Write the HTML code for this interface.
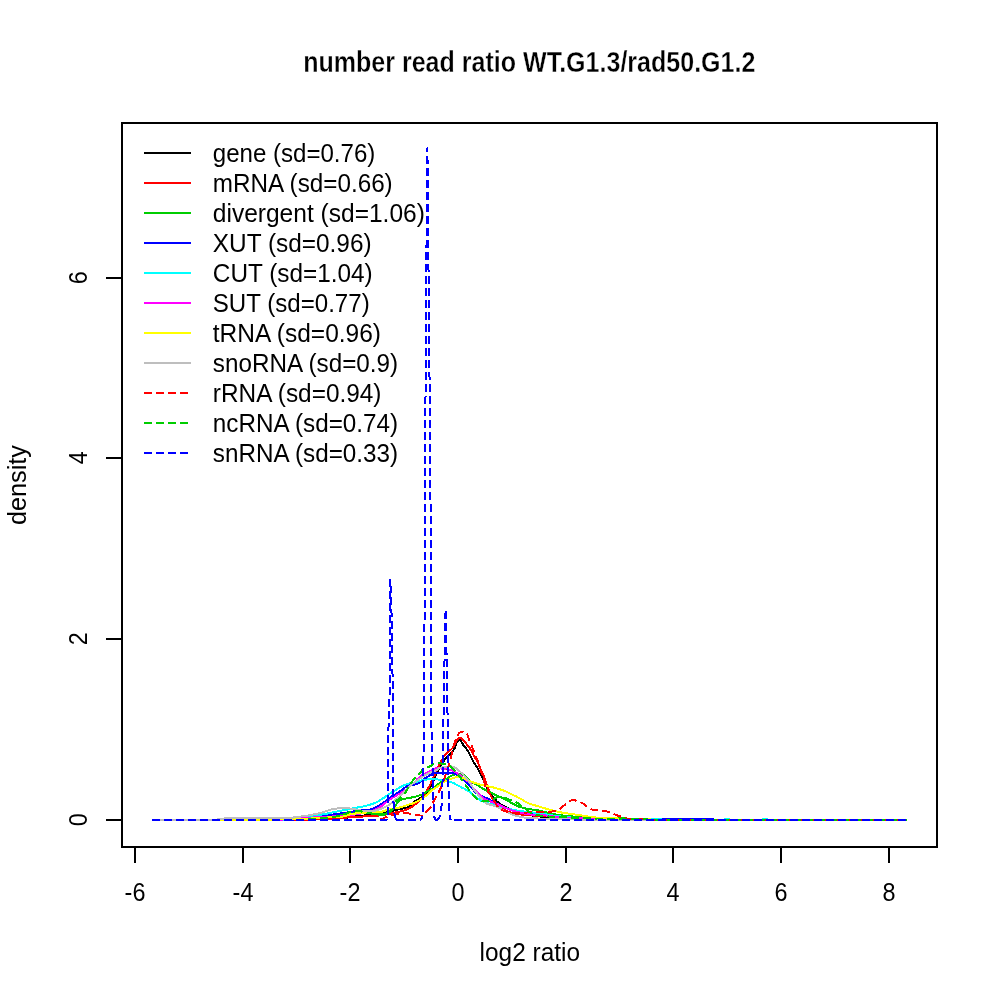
<!DOCTYPE html><html><head><meta charset="utf-8"><style>html,body{margin:0;padding:0;background:#fff;}svg{display:block;will-change:transform;}text{font-family:"Liberation Sans",sans-serif;}</style></head><body>
<svg width="1000" height="1000" viewBox="0 0 1000 1000">
<rect width="1000" height="1000" fill="#fff"/>
<polyline points="152.0,820.0 153.5,820.0 154.9,820.0 156.4,820.0 157.9,820.0 159.4,820.0 160.8,820.0 162.3,820.0 163.8,820.0 165.3,820.0 166.7,820.0 168.2,820.0 169.7,820.0 171.2,820.0 172.6,820.0 174.1,820.0 175.6,820.0 177.1,820.0 178.5,820.0 180.0,820.0 181.5,820.0 183.0,820.0 184.4,820.0 185.9,820.0 187.4,820.0 188.9,820.0 190.3,820.0 191.8,820.0 193.3,820.0 194.8,820.0 196.2,820.0 197.7,820.0 199.2,820.0 200.7,820.0 202.1,820.0 203.6,820.0 205.1,820.0 206.6,820.0 208.0,820.0 209.5,820.0 211.0,820.0 212.5,820.0 213.9,820.0 215.4,820.0 216.9,820.0 218.4,819.9 219.8,819.9 221.3,819.9 222.8,819.9 224.3,819.9 225.7,819.9 227.2,819.9 228.7,819.9 230.2,819.9 231.6,819.9 233.1,819.9 234.6,819.9 236.1,819.9 237.5,819.9 239.0,819.9 240.5,819.9 242.0,819.9 243.4,819.9 244.9,819.9 246.4,819.9 247.9,819.9 249.3,819.9 250.8,819.9 252.3,819.9 253.8,819.9 255.2,819.9 256.7,819.9 258.2,819.9 259.7,819.9 261.1,819.9 262.6,819.9 264.1,819.8 265.6,819.8 267.0,819.8 268.5,819.8 270.0,819.8 271.5,819.8 272.9,819.8 274.4,819.8 275.9,819.8 277.4,819.8 278.8,819.8 280.3,819.8 281.8,819.8 283.3,819.8 284.7,819.8 286.2,819.8 287.7,819.8 289.2,819.7 290.6,819.7 292.1,819.7 293.6,819.7 295.1,819.7 296.5,819.6 298.0,819.6 299.5,819.6 301.0,819.6 302.4,819.6 303.9,819.5 305.4,819.5 306.9,819.5 308.3,819.4 309.8,819.4 311.3,819.4 312.8,819.4 314.2,819.3 315.7,819.3 317.2,819.3 318.7,819.2 320.1,819.2 321.6,819.2 323.1,819.1 324.6,819.1 326.0,819.1 327.5,819.0 329.0,819.0 330.5,818.9 331.9,818.9 333.4,818.8 334.9,818.7 336.4,818.7 337.8,818.6 339.3,818.5 340.8,818.4 342.3,818.3 343.7,818.2 345.2,818.0 346.7,817.8 348.2,817.5 349.6,817.3 351.1,817.1 352.6,816.8 354.1,816.6 355.5,816.4 357.0,816.1 358.5,816.0 360.0,815.8 361.4,815.7 362.9,815.6 364.4,815.5 365.9,815.4 367.3,815.3 368.8,815.2 370.3,815.1 371.8,815.0 373.2,814.9 374.7,814.7 376.2,814.6 377.7,814.4 379.1,814.1 380.6,813.8 382.1,813.5 383.6,813.1 385.0,812.7 386.5,812.4 388.0,812.0 389.5,811.6 390.9,811.2 392.4,810.8 393.9,810.4 395.4,810.1 396.8,809.8 398.3,809.5 399.8,809.2 401.3,808.9 402.7,808.6 404.2,808.3 405.7,808.0 407.2,807.5 408.6,806.9 410.1,805.7 411.6,804.2 413.1,802.8 414.5,801.6 416.0,800.7 417.5,799.8 419.0,798.9 420.4,797.9 421.9,796.7 423.4,795.4 424.9,794.0 426.3,792.4 427.8,790.7 429.3,788.7 430.8,786.4 432.2,783.5 433.7,779.9 435.2,776.3 436.7,773.4 438.1,770.7 439.6,768.1 441.1,765.6 442.6,763.1 444.0,760.7 445.5,758.7 447.0,757.1 448.5,755.5 449.9,754.1 451.4,752.7 452.9,751.1 454.4,748.7 455.8,744.8 457.3,741.5 458.8,740.0 460.3,740.0 461.7,742.5 463.2,744.8 464.7,746.8 466.2,748.5 467.6,750.6 469.1,753.2 470.6,756.0 472.1,758.9 473.5,761.9 475.0,764.3 476.5,766.4 478.0,768.8 479.4,771.6 480.9,774.4 482.4,777.4 483.9,780.5 485.3,784.0 486.8,787.5 488.3,790.3 489.8,792.7 491.2,794.8 492.7,796.7 494.2,798.4 495.7,800.1 497.1,801.6 498.6,802.9 500.1,803.9 501.6,804.7 503.0,805.5 504.5,806.2 506.0,807.0 507.5,807.8 508.9,808.6 510.4,809.3 511.9,810.0 513.4,810.5 514.8,811.0 516.3,811.5 517.8,811.9 519.3,812.3 520.7,812.7 522.2,813.1 523.7,813.5 525.2,813.8 526.6,814.2 528.1,814.6 529.6,814.9 531.1,815.2 532.5,815.5 534.0,815.7 535.5,815.9 537.0,816.1 538.4,816.3 539.9,816.5 541.4,816.6 542.9,816.8 544.3,816.9 545.8,817.0 547.3,817.2 548.8,817.3 550.2,817.4 551.7,817.5 553.2,817.6 554.7,817.7 556.1,817.8 557.6,817.9 559.1,818.0 560.6,818.0 562.0,818.1 563.5,818.2 565.0,818.3 566.5,818.3 567.9,818.4 569.4,818.5 570.9,818.5 572.4,818.6 573.8,818.7 575.3,818.7 576.8,818.8 578.3,818.9 579.7,818.9 581.2,819.0 582.7,819.0 584.2,819.1 585.6,819.1 587.1,819.2 588.6,819.2 590.1,819.3 591.5,819.3 593.0,819.3 594.5,819.4 596.0,819.4 597.4,819.4 598.9,819.5 600.4,819.5 601.9,819.5 603.3,819.6 604.8,819.6 606.3,819.6 607.8,819.6 609.2,819.7 610.7,819.7 612.2,819.7 613.7,819.7 615.1,819.8 616.6,819.8 618.1,819.8 619.6,819.8 621.0,819.9 622.5,819.9 624.0,819.9 625.5,819.9 626.9,819.9 628.4,819.9 629.9,820.0 631.4,820.0 632.8,820.0 634.3,820.0 635.8,820.0 637.3,820.0 638.7,820.0 640.2,820.0 641.7,820.0 643.2,820.0 644.6,820.0 646.1,820.0 647.6,820.0 649.1,820.0 650.5,820.0 652.0,820.0 653.5,820.0 655.0,820.0 656.4,820.0 657.9,820.0 659.4,820.0 660.9,820.0 662.3,820.0 663.8,820.0 665.3,820.0 666.8,820.0 668.2,820.0 669.7,820.0 671.2,820.0 672.7,820.0 674.1,820.0 675.6,820.0 677.1,820.0 678.6,820.0 680.0,820.0 681.5,820.0 683.0,820.0 684.5,820.0 685.9,820.0 687.4,820.0 688.9,820.0 690.4,820.0 691.8,820.0 693.3,820.0 694.8,820.0 696.3,820.0 697.7,820.0 699.2,820.0 700.7,820.0 702.2,820.0 703.6,820.0 705.1,820.0 706.6,820.0 708.1,820.0 709.5,820.0 711.0,820.0 712.5,820.0 714.0,820.0 715.4,820.0 716.9,820.0 718.4,820.0 719.9,820.0 721.3,820.0 722.8,820.0 724.3,820.0 725.8,820.0 727.2,820.0 728.7,820.0 730.2,820.0 731.7,820.0 733.1,820.0 734.6,820.0 736.1,820.0 737.6,820.0 739.0,820.0 740.5,820.0 742.0,820.0 743.5,820.0 744.9,820.0 746.4,820.0 747.9,820.0 749.4,820.0 750.8,820.0 752.3,820.0 753.8,820.0 755.3,820.0 756.7,820.0 758.2,820.0 759.7,820.0 761.2,820.0 762.6,820.0 764.1,820.0 765.6,820.0 767.1,820.0 768.5,820.0 770.0,820.0 771.5,820.0 773.0,820.0 774.4,820.0 775.9,820.0 777.4,820.0 778.9,820.0 780.3,820.0 781.8,820.0 783.3,820.0 784.8,820.0 786.2,820.0 787.7,820.0 789.2,820.0 790.7,820.0 792.1,820.0 793.6,820.0 795.1,820.0 796.6,820.0 798.0,820.0 799.5,820.0 801.0,820.0 802.5,820.0 803.9,820.0 805.4,820.0 806.9,820.0 808.4,820.0 809.8,820.0 811.3,820.0 812.8,820.0 814.3,820.0 815.7,820.0 817.2,820.0 818.7,820.0 820.2,820.0 821.6,820.0 823.1,820.0 824.6,820.0 826.1,820.0 827.5,820.0 829.0,820.0 830.5,820.0 832.0,820.0 833.4,820.0 834.9,820.0 836.4,820.0 837.9,820.0 839.3,820.0 840.8,820.0 842.3,820.0 843.8,820.0 845.2,820.0 846.7,820.0 848.2,820.0 849.7,820.0 851.1,820.0 852.6,820.0 854.1,820.0 855.6,820.0 857.0,820.0 858.5,820.0 860.0,820.0 861.5,820.0 862.9,820.0 864.4,820.0 865.9,820.0 867.4,820.0 868.8,820.0 870.3,820.0 871.8,820.0 873.3,820.0 874.7,820.0 876.2,820.0 877.7,820.0 879.2,820.0 880.6,820.0 882.1,820.0 883.6,820.0 885.1,820.0 886.5,820.0 888.0,820.0 889.5,820.0 891.0,820.0 892.4,820.0 893.9,820.0 895.4,820.0 896.9,820.0 898.3,820.0 899.8,820.0 901.3,820.0 902.8,820.0 904.2,820.0 905.7,820.0" fill="none" stroke="#000000" stroke-width="2" stroke-linejoin="round" shape-rendering="crispEdges"/>
<polyline points="152.0,820.0 153.5,820.0 154.9,820.0 156.4,820.0 157.9,820.0 159.4,820.0 160.8,820.0 162.3,820.0 163.8,820.0 165.3,820.0 166.7,820.0 168.2,820.0 169.7,820.0 171.2,820.0 172.6,820.0 174.1,820.0 175.6,820.0 177.1,820.0 178.5,820.0 180.0,820.0 181.5,820.0 183.0,820.0 184.4,820.0 185.9,820.0 187.4,820.0 188.9,820.0 190.3,820.0 191.8,820.0 193.3,820.0 194.8,820.0 196.2,820.0 197.7,820.0 199.2,820.0 200.7,820.0 202.1,820.0 203.6,820.0 205.1,820.0 206.6,820.0 208.0,820.0 209.5,819.9 211.0,819.9 212.5,819.9 213.9,819.9 215.4,819.9 216.9,819.9 218.4,819.9 219.8,819.9 221.3,819.9 222.8,819.9 224.3,819.9 225.7,819.9 227.2,819.9 228.7,819.9 230.2,819.9 231.6,819.9 233.1,819.9 234.6,819.9 236.1,819.9 237.5,819.9 239.0,819.9 240.5,819.9 242.0,819.9 243.4,819.9 244.9,819.9 246.4,819.9 247.9,819.8 249.3,819.8 250.8,819.8 252.3,819.8 253.8,819.8 255.2,819.8 256.7,819.8 258.2,819.8 259.7,819.8 261.1,819.8 262.6,819.8 264.1,819.8 265.6,819.8 267.0,819.8 268.5,819.8 270.0,819.8 271.5,819.8 272.9,819.7 274.4,819.7 275.9,819.7 277.4,819.7 278.8,819.7 280.3,819.7 281.8,819.7 283.3,819.7 284.7,819.7 286.2,819.7 287.7,819.7 289.2,819.7 290.6,819.7 292.1,819.6 293.6,819.6 295.1,819.6 296.5,819.6 298.0,819.6 299.5,819.6 301.0,819.6 302.4,819.6 303.9,819.6 305.4,819.5 306.9,819.5 308.3,819.5 309.8,819.5 311.3,819.4 312.8,819.4 314.2,819.3 315.7,819.3 317.2,819.3 318.7,819.2 320.1,819.1 321.6,819.1 323.1,819.0 324.6,819.0 326.0,818.9 327.5,818.8 329.0,818.8 330.5,818.7 331.9,818.6 333.4,818.6 334.9,818.5 336.4,818.4 337.8,818.3 339.3,818.2 340.8,818.1 342.3,818.0 343.7,817.9 345.2,817.7 346.7,817.5 348.2,817.4 349.6,817.2 351.1,817.1 352.6,817.0 354.1,816.9 355.5,816.8 357.0,816.7 358.5,816.7 360.0,816.6 361.4,816.5 362.9,816.5 364.4,816.4 365.9,816.3 367.3,816.2 368.8,816.2 370.3,816.1 371.8,816.0 373.2,816.0 374.7,815.9 376.2,815.8 377.7,815.7 379.1,815.5 380.6,815.4 382.1,815.2 383.6,814.9 385.0,814.6 386.5,814.3 388.0,814.0 389.5,813.7 390.9,813.4 392.4,813.1 393.9,812.8 395.4,812.5 396.8,812.3 398.3,812.0 399.8,811.6 401.3,811.3 402.7,810.9 404.2,810.4 405.7,809.9 407.2,809.3 408.6,808.7 410.1,807.9 411.6,807.0 413.1,806.1 414.5,805.0 416.0,803.8 417.5,802.5 419.0,801.1 420.4,799.5 421.9,797.8 423.4,795.9 424.9,793.9 426.3,791.6 427.8,789.0 429.3,786.2 430.8,783.3 432.2,779.9 433.7,776.6 435.2,774.1 436.7,770.8 438.1,767.3 439.6,764.3 441.1,761.3 442.6,758.6 444.0,756.4 445.5,754.7 447.0,753.3 448.5,751.9 449.9,750.5 451.4,749.2 452.9,747.5 454.4,745.0 455.8,742.2 457.3,739.4 458.8,737.7 460.3,737.7 461.7,738.5 463.2,740.1 464.7,741.9 466.2,743.5 467.6,745.3 469.1,747.2 470.6,749.4 472.1,752.1 473.5,755.1 475.0,757.7 476.5,760.1 478.0,762.8 479.4,766.1 480.9,769.7 482.4,772.9 483.9,776.6 485.3,780.7 486.8,784.6 488.3,789.0 489.8,793.5 491.2,796.6 492.7,799.0 494.2,801.0 495.7,802.7 497.1,804.2 498.6,805.6 500.1,806.9 501.6,808.1 503.0,809.1 504.5,809.9 506.0,810.6 507.5,811.3 508.9,811.8 510.4,812.3 511.9,812.8 513.4,813.2 514.8,813.5 516.3,813.8 517.8,814.1 519.3,814.3 520.7,814.5 522.2,814.6 523.7,814.8 525.2,814.9 526.6,815.1 528.1,815.2 529.6,815.3 531.1,815.4 532.5,815.5 534.0,815.6 535.5,815.7 537.0,815.8 538.4,815.9 539.9,816.0 541.4,816.0 542.9,816.1 544.3,816.2 545.8,816.3 547.3,816.3 548.8,816.4 550.2,816.5 551.7,816.6 553.2,816.6 554.7,816.7 556.1,816.8 557.6,816.9 559.1,817.0 560.6,817.1 562.0,817.1 563.5,817.2 565.0,817.3 566.5,817.4 567.9,817.5 569.4,817.6 570.9,817.6 572.4,817.7 573.8,817.8 575.3,817.9 576.8,818.0 578.3,818.0 579.7,818.1 581.2,818.2 582.7,818.3 584.2,818.3 585.6,818.4 587.1,818.5 588.6,818.6 590.1,818.6 591.5,818.7 593.0,818.7 594.5,818.8 596.0,818.9 597.4,818.9 598.9,819.0 600.4,819.0 601.9,819.1 603.3,819.1 604.8,819.2 606.3,819.2 607.8,819.3 609.2,819.3 610.7,819.4 612.2,819.4 613.7,819.5 615.1,819.5 616.6,819.6 618.1,819.6 619.6,819.7 621.0,819.7 622.5,819.7 624.0,819.8 625.5,819.8 626.9,819.8 628.4,819.9 629.9,819.9 631.4,819.9 632.8,820.0 634.3,820.0 635.8,820.0 637.3,820.0 638.7,820.0 640.2,820.0 641.7,820.0 643.2,820.0 644.6,820.0 646.1,820.0 647.6,820.0 649.1,820.0 650.5,820.0 652.0,820.0 653.5,820.0 655.0,820.0 656.4,820.0 657.9,820.0 659.4,820.0 660.9,820.0 662.3,820.0 663.8,820.0 665.3,820.0 666.8,820.0 668.2,820.0 669.7,820.0 671.2,820.0 672.7,820.0 674.1,820.0 675.6,820.0 677.1,820.0 678.6,820.0 680.0,820.0 681.5,820.0 683.0,820.0 684.5,820.0 685.9,820.0 687.4,820.0 688.9,820.0 690.4,820.0 691.8,820.0 693.3,820.0 694.8,820.0 696.3,820.0 697.7,820.0 699.2,820.0 700.7,820.0 702.2,820.0 703.6,820.0 705.1,820.0 706.6,820.0 708.1,820.0 709.5,820.0 711.0,820.0 712.5,820.0 714.0,820.0 715.4,820.0 716.9,820.0 718.4,820.0 719.9,820.0 721.3,820.0 722.8,820.0 724.3,820.0 725.8,820.0 727.2,820.0 728.7,820.0 730.2,820.0 731.7,820.0 733.1,820.0 734.6,820.0 736.1,820.0 737.6,820.0 739.0,820.0 740.5,820.0 742.0,820.0 743.5,820.0 744.9,820.0 746.4,820.0 747.9,820.0 749.4,820.0 750.8,820.0 752.3,820.0 753.8,820.0 755.3,820.0 756.7,820.0 758.2,820.0 759.7,820.0 761.2,820.0 762.6,820.0 764.1,820.0 765.6,820.0 767.1,820.0 768.5,820.0 770.0,820.0 771.5,820.0 773.0,820.0 774.4,820.0 775.9,820.0 777.4,820.0 778.9,820.0 780.3,820.0 781.8,820.0 783.3,820.0 784.8,820.0 786.2,820.0 787.7,820.0 789.2,820.0 790.7,820.0 792.1,820.0 793.6,820.0 795.1,820.0 796.6,820.0 798.0,820.0 799.5,820.0 801.0,820.0 802.5,820.0 803.9,820.0 805.4,820.0 806.9,820.0 808.4,820.0 809.8,820.0 811.3,820.0 812.8,820.0 814.3,820.0 815.7,820.0 817.2,820.0 818.7,820.0 820.2,820.0 821.6,820.0 823.1,820.0 824.6,820.0 826.1,820.0 827.5,820.0 829.0,820.0 830.5,820.0 832.0,820.0 833.4,820.0 834.9,820.0 836.4,820.0 837.9,820.0 839.3,820.0 840.8,820.0 842.3,820.0 843.8,820.0 845.2,820.0 846.7,820.0 848.2,820.0 849.7,820.0 851.1,820.0 852.6,820.0 854.1,820.0 855.6,820.0 857.0,820.0 858.5,820.0 860.0,820.0 861.5,820.0 862.9,820.0 864.4,820.0 865.9,820.0 867.4,820.0 868.8,820.0 870.3,820.0 871.8,820.0 873.3,820.0 874.7,820.0 876.2,820.0 877.7,820.0 879.2,820.0 880.6,820.0 882.1,820.0 883.6,820.0 885.1,820.0 886.5,820.0 888.0,820.0 889.5,820.0 891.0,820.0 892.4,820.0 893.9,820.0 895.4,820.0 896.9,820.0 898.3,820.0 899.8,820.0 901.3,820.0 902.8,820.0 904.2,820.0 905.7,820.0" fill="none" stroke="#FF0000" stroke-width="2" stroke-linejoin="round" shape-rendering="crispEdges"/>
<polyline points="152.0,820.0 153.5,820.0 154.9,820.0 156.4,820.0 157.9,820.0 159.4,820.0 160.8,820.0 162.3,820.0 163.8,820.0 165.3,820.0 166.7,820.0 168.2,820.0 169.7,820.0 171.2,820.0 172.6,820.0 174.1,820.0 175.6,820.0 177.1,820.0 178.5,820.0 180.0,820.0 181.5,820.0 183.0,820.0 184.4,820.0 185.9,819.9 187.4,819.9 188.9,819.9 190.3,819.9 191.8,819.9 193.3,819.9 194.8,819.9 196.2,819.9 197.7,819.9 199.2,819.9 200.7,819.9 202.1,819.9 203.6,819.9 205.1,819.9 206.6,819.9 208.0,819.9 209.5,819.9 211.0,819.8 212.5,819.8 213.9,819.8 215.4,819.8 216.9,819.8 218.4,819.8 219.8,819.8 221.3,819.8 222.8,819.8 224.3,819.8 225.7,819.8 227.2,819.8 228.7,819.7 230.2,819.7 231.6,819.7 233.1,819.7 234.6,819.7 236.1,819.7 237.5,819.7 239.0,819.7 240.5,819.7 242.0,819.7 243.4,819.6 244.9,819.6 246.4,819.6 247.9,819.6 249.3,819.6 250.8,819.6 252.3,819.6 253.8,819.6 255.2,819.5 256.7,819.5 258.2,819.5 259.7,819.5 261.1,819.5 262.6,819.4 264.1,819.4 265.6,819.4 267.0,819.3 268.5,819.3 270.0,819.3 271.5,819.2 272.9,819.2 274.4,819.2 275.9,819.1 277.4,819.1 278.8,819.0 280.3,819.0 281.8,818.9 283.3,818.9 284.7,818.8 286.2,818.8 287.7,818.7 289.2,818.7 290.6,818.6 292.1,818.5 293.6,818.5 295.1,818.4 296.5,818.4 298.0,818.3 299.5,818.2 301.0,818.2 302.4,818.1 303.9,818.0 305.4,817.8 306.9,817.7 308.3,817.6 309.8,817.4 311.3,817.2 312.8,817.1 314.2,816.9 315.7,816.7 317.2,816.5 318.7,816.4 320.1,816.2 321.6,816.0 323.1,815.8 324.6,815.7 326.0,815.5 327.5,815.4 329.0,815.3 330.5,815.2 331.9,815.1 333.4,815.0 334.9,814.9 336.4,814.9 337.8,814.8 339.3,814.7 340.8,814.5 342.3,814.3 343.7,814.0 345.2,813.7 346.7,813.3 348.2,813.0 349.6,812.6 351.1,812.4 352.6,812.1 354.1,811.8 355.5,811.6 357.0,811.3 358.5,811.1 360.0,811.0 361.4,811.0 362.9,811.2 364.4,811.5 365.9,812.0 367.3,812.5 368.8,812.9 370.3,813.3 371.8,813.6 373.2,814.0 374.7,814.3 376.2,814.4 377.7,814.4 379.1,814.4 380.6,814.4 382.1,814.4 383.6,814.2 385.0,813.9 386.5,813.4 388.0,812.8 389.5,812.1 390.9,811.0 392.4,809.8 393.9,808.1 395.4,806.0 396.8,803.7 398.3,801.5 399.8,800.3 401.3,799.6 402.7,799.2 404.2,798.9 405.7,798.6 407.2,798.4 408.6,798.1 410.1,797.8 411.6,797.5 413.1,797.2 414.5,796.9 416.0,796.5 417.5,796.0 419.0,795.6 420.4,795.0 421.9,794.5 423.4,793.8 424.9,792.9 426.3,792.0 427.8,791.1 429.3,790.3 430.8,789.4 432.2,788.4 433.7,787.4 435.2,786.4 436.7,785.3 438.1,784.3 439.6,783.2 441.1,782.2 442.6,781.1 444.0,780.2 445.5,779.3 447.0,778.5 448.5,777.6 449.9,776.5 451.4,775.6 452.9,775.1 454.4,774.6 455.8,774.3 457.3,774.2 458.8,774.2 460.3,774.4 461.7,774.5 463.2,774.8 464.7,775.5 466.2,777.0 467.6,778.4 469.1,780.0 470.6,781.3 472.1,782.3 473.5,783.2 475.0,784.0 476.5,784.8 478.0,785.6 479.4,786.5 480.9,787.4 482.4,788.3 483.9,789.2 485.3,790.0 486.8,790.8 488.3,791.5 489.8,792.2 491.2,792.9 492.7,793.7 494.2,794.4 495.7,795.2 497.1,795.9 498.6,796.5 500.1,797.0 501.6,797.6 503.0,798.3 504.5,799.1 506.0,799.9 507.5,800.7 508.9,801.5 510.4,802.4 511.9,803.1 513.4,803.9 514.8,804.7 516.3,805.5 517.8,806.2 519.3,806.8 520.7,807.2 522.2,807.6 523.7,808.0 525.2,808.3 526.6,808.6 528.1,808.9 529.6,809.1 531.1,809.4 532.5,809.6 534.0,809.8 535.5,810.1 537.0,810.3 538.4,810.5 539.9,810.8 541.4,811.1 542.9,811.4 544.3,811.8 545.8,812.2 547.3,812.6 548.8,812.9 550.2,813.3 551.7,813.6 553.2,813.9 554.7,814.2 556.1,814.5 557.6,814.8 559.1,815.1 560.6,815.3 562.0,815.4 563.5,815.6 565.0,815.7 566.5,815.9 567.9,816.0 569.4,816.1 570.9,816.3 572.4,816.5 573.8,816.6 575.3,816.8 576.8,816.9 578.3,817.1 579.7,817.2 581.2,817.3 582.7,817.4 584.2,817.4 585.6,817.5 587.1,817.6 588.6,817.6 590.1,817.7 591.5,817.8 593.0,817.8 594.5,817.9 596.0,817.9 597.4,817.9 598.9,818.0 600.4,818.0 601.9,818.0 603.3,818.1 604.8,818.1 606.3,818.1 607.8,818.1 609.2,818.1 610.7,818.2 612.2,818.2 613.7,818.2 615.1,818.2 616.6,818.2 618.1,818.3 619.6,818.3 621.0,818.3 622.5,818.4 624.0,818.4 625.5,818.5 626.9,818.6 628.4,818.6 629.9,818.7 631.4,818.8 632.8,818.8 634.3,818.9 635.8,818.9 637.3,819.0 638.7,819.0 640.2,819.0 641.7,819.0 643.2,819.0 644.6,819.0 646.1,819.0 647.6,819.0 649.1,819.0 650.5,819.0 652.0,819.0 653.5,819.0 655.0,819.0 656.4,819.0 657.9,819.0 659.4,819.0 660.9,819.0 662.3,819.0 663.8,819.0 665.3,819.0 666.8,819.0 668.2,819.0 669.7,819.0 671.2,819.0 672.7,819.0 674.1,819.0 675.6,819.0 677.1,819.3 678.6,819.6 680.0,819.9 681.5,820.0 683.0,820.0 684.5,820.0 685.9,820.0 687.4,820.0 688.9,820.0 690.4,820.0 691.8,820.0 693.3,820.0 694.8,820.0 696.3,820.0 697.7,820.0 699.2,820.0 700.7,820.0 702.2,820.0 703.6,820.0 705.1,820.0 706.6,820.0 708.1,820.0 709.5,820.0 711.0,820.0 712.5,820.0 714.0,820.0 715.4,820.0 716.9,820.0 718.4,820.0 719.9,820.0 721.3,820.0 722.8,820.0 724.3,820.0 725.8,820.0 727.2,820.0 728.7,820.0 730.2,820.0 731.7,820.0 733.1,820.0 734.6,820.0 736.1,820.0 737.6,820.0 739.0,820.0 740.5,820.0 742.0,820.0 743.5,820.0 744.9,820.0 746.4,820.0 747.9,820.0 749.4,820.0 750.8,820.0 752.3,820.0 753.8,820.0 755.3,820.0 756.7,820.0 758.2,820.0 759.7,820.0 761.2,820.0 762.6,820.0 764.1,820.0 765.6,820.0 767.1,820.0 768.5,820.0 770.0,820.0 771.5,820.0 773.0,820.0 774.4,820.0 775.9,820.0 777.4,820.0 778.9,820.0 780.3,820.0 781.8,820.0 783.3,820.0 784.8,820.0 786.2,820.0 787.7,820.0 789.2,820.0 790.7,820.0 792.1,820.0 793.6,820.0 795.1,820.0 796.6,820.0 798.0,820.0 799.5,820.0 801.0,820.0 802.5,820.0 803.9,820.0 805.4,820.0 806.9,820.0 808.4,820.0 809.8,820.0 811.3,820.0 812.8,820.0 814.3,820.0 815.7,820.0 817.2,820.0 818.7,820.0 820.2,820.0 821.6,820.0 823.1,820.0 824.6,820.0 826.1,820.0 827.5,820.0 829.0,820.0 830.5,820.0 832.0,820.0 833.4,820.0 834.9,820.0 836.4,820.0 837.9,820.0 839.3,820.0 840.8,820.0 842.3,820.0 843.8,820.0 845.2,820.0 846.7,820.0 848.2,820.0 849.7,820.0 851.1,820.0 852.6,820.0 854.1,820.0 855.6,820.0 857.0,820.0 858.5,820.0 860.0,820.0 861.5,820.0 862.9,820.0 864.4,820.0 865.9,820.0 867.4,820.0 868.8,820.0 870.3,820.0 871.8,820.0 873.3,820.0 874.7,820.0 876.2,820.0 877.7,820.0 879.2,820.0 880.6,820.0 882.1,820.0 883.6,820.0 885.1,820.0 886.5,820.0 888.0,820.0 889.5,820.0 891.0,820.0 892.4,820.0 893.9,820.0 895.4,820.0 896.9,820.0 898.3,820.0 899.8,820.0 901.3,820.0 902.8,820.0 904.2,820.0 905.7,820.0" fill="none" stroke="#00CD00" stroke-width="2" stroke-linejoin="round" shape-rendering="crispEdges"/>
<polyline points="152.0,820.0 153.5,820.0 154.9,820.0 156.4,820.0 157.9,820.0 159.4,820.0 160.8,820.0 162.3,820.0 163.8,820.0 165.3,820.0 166.7,820.0 168.2,820.0 169.7,820.0 171.2,820.0 172.6,820.0 174.1,820.0 175.6,820.0 177.1,820.0 178.5,820.0 180.0,820.0 181.5,820.0 183.0,820.0 184.4,820.0 185.9,820.0 187.4,820.0 188.9,820.0 190.3,820.0 191.8,820.0 193.3,820.0 194.8,820.0 196.2,820.0 197.7,820.0 199.2,820.0 200.7,820.0 202.1,820.0 203.6,820.0 205.1,820.0 206.6,820.0 208.0,820.0 209.5,820.0 211.0,820.0 212.5,819.9 213.9,819.9 215.4,819.9 216.9,819.9 218.4,819.9 219.8,819.9 221.3,819.9 222.8,819.9 224.3,819.9 225.7,819.9 227.2,819.9 228.7,819.9 230.2,819.9 231.6,819.9 233.1,819.9 234.6,819.9 236.1,819.9 237.5,819.9 239.0,819.9 240.5,819.9 242.0,819.9 243.4,819.9 244.9,819.9 246.4,819.8 247.9,819.8 249.3,819.8 250.8,819.8 252.3,819.8 253.8,819.8 255.2,819.8 256.7,819.8 258.2,819.8 259.7,819.8 261.1,819.8 262.6,819.8 264.1,819.8 265.6,819.8 267.0,819.7 268.5,819.7 270.0,819.7 271.5,819.7 272.9,819.7 274.4,819.7 275.9,819.7 277.4,819.7 278.8,819.7 280.3,819.7 281.8,819.7 283.3,819.6 284.7,819.6 286.2,819.6 287.7,819.6 289.2,819.6 290.6,819.6 292.1,819.5 293.6,819.5 295.1,819.3 296.5,819.2 298.0,819.0 299.5,818.9 301.0,818.7 302.4,818.5 303.9,818.3 305.4,818.1 306.9,817.9 308.3,817.7 309.8,817.5 311.3,817.3 312.8,817.2 314.2,817.0 315.7,816.8 317.2,816.6 318.7,816.5 320.1,816.3 321.6,816.1 323.1,815.9 324.6,815.7 326.0,815.5 327.5,815.3 329.0,815.1 330.5,814.9 331.9,814.7 333.4,814.5 334.9,814.3 336.4,814.1 337.8,813.9 339.3,813.6 340.8,813.4 342.3,813.2 343.7,812.9 345.2,812.7 346.7,812.5 348.2,812.3 349.6,812.1 351.1,811.8 352.6,811.6 354.1,811.4 355.5,811.2 357.0,811.0 358.5,810.8 360.0,810.6 361.4,810.4 362.9,810.3 364.4,810.2 365.9,810.0 367.3,809.9 368.8,809.7 370.3,809.4 371.8,809.1 373.2,808.5 374.7,807.9 376.2,807.1 377.7,806.3 379.1,805.5 380.6,804.6 382.1,803.7 383.6,802.6 385.0,801.4 386.5,800.2 388.0,799.0 389.5,798.0 390.9,797.0 392.4,796.1 393.9,795.3 395.4,794.4 396.8,793.4 398.3,792.4 399.8,791.4 401.3,790.3 402.7,789.3 404.2,788.1 405.7,787.0 407.2,786.1 408.6,785.6 410.1,785.3 411.6,785.0 413.1,784.7 414.5,784.5 416.0,784.4 417.5,784.0 419.0,782.9 420.4,781.4 421.9,780.1 423.4,779.2 424.9,778.4 426.3,777.6 427.8,776.7 429.3,775.7 430.8,774.8 432.2,774.1 433.7,773.4 435.2,772.9 436.7,772.6 438.1,772.6 439.6,772.6 441.1,772.6 442.6,772.6 444.0,772.6 445.5,772.7 447.0,772.9 448.5,773.0 449.9,773.1 451.4,773.2 452.9,773.3 454.4,773.5 455.8,774.1 457.3,775.6 458.8,776.8 460.3,777.7 461.7,778.6 463.2,779.6 464.7,780.8 466.2,782.3 467.6,783.9 469.1,785.5 470.6,787.0 472.1,788.6 473.5,790.1 475.0,791.7 476.5,793.1 478.0,794.3 479.4,795.2 480.9,795.9 482.4,796.5 483.9,797.0 485.3,797.6 486.8,798.2 488.3,798.9 489.8,799.7 491.2,800.5 492.7,801.3 494.2,802.1 495.7,802.8 497.1,803.6 498.6,804.3 500.1,805.1 501.6,805.9 503.0,806.6 504.5,807.3 506.0,808.0 507.5,808.6 508.9,809.2 510.4,809.6 511.9,810.1 513.4,810.5 514.8,810.9 516.3,811.3 517.8,811.7 519.3,812.0 520.7,812.4 522.2,812.7 523.7,813.0 525.2,813.3 526.6,813.5 528.1,813.7 529.6,813.9 531.1,814.1 532.5,814.3 534.0,814.5 535.5,814.6 537.0,814.8 538.4,814.9 539.9,815.0 541.4,815.2 542.9,815.3 544.3,815.4 545.8,815.5 547.3,815.6 548.8,815.7 550.2,815.8 551.7,815.9 553.2,816.1 554.7,816.2 556.1,816.3 557.6,816.4 559.1,816.5 560.6,816.7 562.0,816.8 563.5,817.0 565.0,817.1 566.5,817.3 567.9,817.4 569.4,817.5 570.9,817.5 572.4,817.5 573.8,817.5 575.3,817.5 576.8,817.5 578.3,817.5 579.7,817.5 581.2,817.6 582.7,817.6 584.2,817.6 585.6,817.6 587.1,817.6 588.6,817.6 590.1,817.6 591.5,817.7 593.0,817.8 594.5,817.9 596.0,818.1 597.4,818.2 598.9,818.3 600.4,818.4 601.9,818.5 603.3,818.5 604.8,818.6 606.3,818.6 607.8,818.7 609.2,818.7 610.7,818.7 612.2,818.8 613.7,818.8 615.1,818.8 616.6,818.9 618.1,818.9 619.6,818.9 621.0,818.9 622.5,819.0 624.0,819.0 625.5,819.0 626.9,819.0 628.4,819.0 629.9,819.0 631.4,819.0 632.8,819.0 634.3,819.0 635.8,819.0 637.3,819.0 638.7,819.0 640.2,819.0 641.7,819.0 643.2,819.0 644.6,819.0 646.1,819.0 647.6,819.0 649.1,819.0 650.5,819.0 652.0,819.0 653.5,819.0 655.0,819.0 656.4,819.0 657.9,819.0 659.4,819.0 660.9,819.0 662.3,819.0 663.8,819.0 665.3,819.0 666.8,819.0 668.2,819.0 669.7,819.0 671.2,819.0 672.7,819.0 674.1,819.0 675.6,819.0 677.1,819.0 678.6,819.0 680.0,819.0 681.5,819.0 683.0,819.0 684.5,819.0 685.9,819.0 687.4,819.0 688.9,819.0 690.4,819.0 691.8,819.0 693.3,819.0 694.8,819.0 696.3,819.0 697.7,819.0 699.2,819.0 700.7,819.0 702.2,819.0 703.6,819.0 705.1,819.0 706.6,819.0 708.1,819.0 709.5,819.0 711.0,819.0 712.5,819.2 714.0,819.6 715.4,820.0 716.9,820.0 718.4,820.0 719.9,820.0 721.3,820.0 722.8,820.0 724.3,820.0 725.8,820.0 727.2,820.0 728.7,820.0 730.2,820.0 731.7,820.0 733.1,820.0 734.6,820.0 736.1,820.0 737.6,820.0 739.0,820.0 740.5,820.0 742.0,820.0 743.5,820.0 744.9,820.0 746.4,820.0 747.9,820.0 749.4,820.0 750.8,820.0 752.3,820.0 753.8,820.0 755.3,820.0 756.7,820.0 758.2,820.0 759.7,820.0 761.2,820.0 762.6,820.0 764.1,820.0 765.6,820.0 767.1,820.0 768.5,820.0 770.0,820.0 771.5,820.0 773.0,820.0 774.4,820.0 775.9,820.0 777.4,820.0 778.9,820.0 780.3,820.0 781.8,820.0 783.3,820.0 784.8,820.0 786.2,820.0 787.7,820.0 789.2,820.0 790.7,820.0 792.1,820.0 793.6,820.0 795.1,820.0 796.6,820.0 798.0,820.0 799.5,820.0 801.0,820.0 802.5,820.0 803.9,820.0 805.4,820.0 806.9,820.0 808.4,820.0 809.8,820.0 811.3,820.0 812.8,820.0 814.3,820.0 815.7,820.0 817.2,820.0 818.7,820.0 820.2,820.0 821.6,820.0 823.1,820.0 824.6,820.0 826.1,820.0 827.5,820.0 829.0,820.0 830.5,820.0 832.0,820.0 833.4,820.0 834.9,820.0 836.4,820.0 837.9,820.0 839.3,820.0 840.8,820.0 842.3,820.0 843.8,820.0 845.2,820.0 846.7,820.0 848.2,820.0 849.7,820.0 851.1,820.0 852.6,820.0 854.1,820.0 855.6,820.0 857.0,820.0 858.5,820.0 860.0,820.0 861.5,820.0 862.9,820.0 864.4,820.0 865.9,820.0 867.4,820.0 868.8,820.0 870.3,820.0 871.8,820.0 873.3,820.0 874.7,820.0 876.2,820.0 877.7,820.0 879.2,820.0 880.6,820.0 882.1,820.0 883.6,820.0 885.1,820.0 886.5,820.0 888.0,820.0 889.5,820.0 891.0,820.0 892.4,820.0 893.9,820.0 895.4,820.0 896.9,820.0 898.3,820.0 899.8,820.0 901.3,820.0 902.8,820.0 904.2,820.0 905.7,820.0" fill="none" stroke="#0000FF" stroke-width="2" stroke-linejoin="round" shape-rendering="crispEdges"/>
<polyline points="152.0,820.0 153.5,820.0 154.9,820.0 156.4,820.0 157.9,820.0 159.4,820.0 160.8,820.0 162.3,820.0 163.8,820.0 165.3,820.0 166.7,820.0 168.2,820.0 169.7,820.0 171.2,820.0 172.6,820.0 174.1,820.0 175.6,820.0 177.1,820.0 178.5,820.0 180.0,820.0 181.5,820.0 183.0,820.0 184.4,820.0 185.9,820.0 187.4,820.0 188.9,820.0 190.3,820.0 191.8,820.0 193.3,820.0 194.8,820.0 196.2,820.0 197.7,820.0 199.2,820.0 200.7,820.0 202.1,820.0 203.6,820.0 205.1,820.0 206.6,820.0 208.0,820.0 209.5,820.0 211.0,819.9 212.5,819.9 213.9,819.9 215.4,819.9 216.9,819.9 218.4,819.9 219.8,819.9 221.3,819.9 222.8,819.9 224.3,819.9 225.7,819.9 227.2,819.9 228.7,819.9 230.2,819.9 231.6,819.9 233.1,819.9 234.6,819.9 236.1,819.9 237.5,819.9 239.0,819.9 240.5,819.9 242.0,819.9 243.4,819.9 244.9,819.9 246.4,819.8 247.9,819.8 249.3,819.8 250.8,819.8 252.3,819.8 253.8,819.8 255.2,819.8 256.7,819.8 258.2,819.8 259.7,819.8 261.1,819.8 262.6,819.8 264.1,819.8 265.6,819.8 267.0,819.7 268.5,819.7 270.0,819.7 271.5,819.7 272.9,819.7 274.4,819.7 275.9,819.7 277.4,819.7 278.8,819.7 280.3,819.7 281.8,819.7 283.3,819.6 284.7,819.6 286.2,819.6 287.7,819.6 289.2,819.6 290.6,819.6 292.1,819.5 293.6,819.4 295.1,819.3 296.5,819.1 298.0,818.9 299.5,818.7 301.0,818.5 302.4,818.2 303.9,817.9 305.4,817.6 306.9,817.3 308.3,817.0 309.8,816.8 311.3,816.5 312.8,816.2 314.2,816.0 315.7,815.7 317.2,815.5 318.7,815.2 320.1,814.9 321.6,814.6 323.1,814.3 324.6,814.1 326.0,813.8 327.5,813.5 329.0,813.2 330.5,812.9 331.9,812.6 333.4,812.3 334.9,812.0 336.4,811.7 337.8,811.4 339.3,811.1 340.8,810.8 342.3,810.5 343.7,810.3 345.2,810.0 346.7,809.7 348.2,809.4 349.6,809.1 351.1,808.8 352.6,808.5 354.1,808.2 355.5,807.9 357.0,807.6 358.5,807.3 360.0,807.1 361.4,806.8 362.9,806.5 364.4,806.1 365.9,805.8 367.3,805.4 368.8,805.0 370.3,804.6 371.8,804.2 373.2,803.7 374.7,803.1 376.2,802.5 377.7,801.7 379.1,800.9 380.6,799.9 382.1,798.9 383.6,798.0 385.0,797.0 386.5,795.9 388.0,794.8 389.5,793.8 390.9,792.8 392.4,791.9 393.9,791.0 395.4,790.2 396.8,789.3 398.3,788.3 399.8,787.4 401.3,786.6 402.7,785.8 404.2,785.2 405.7,784.6 407.2,784.0 408.6,783.6 410.1,783.3 411.6,783.1 413.1,782.8 414.5,782.5 416.0,782.0 417.5,781.5 419.0,781.1 420.4,780.7 421.9,780.3 423.4,780.0 424.9,779.7 426.3,779.6 427.8,779.4 429.3,779.3 430.8,779.2 432.2,779.2 433.7,779.2 435.2,779.3 436.7,779.4 438.1,779.5 439.6,779.6 441.1,779.7 442.6,779.9 444.0,780.2 445.5,780.5 447.0,780.9 448.5,781.3 449.9,781.7 451.4,782.2 452.9,782.8 454.4,783.5 455.8,784.3 457.3,785.2 458.8,786.0 460.3,786.8 461.7,787.5 463.2,788.2 464.7,789.0 466.2,789.8 467.6,790.7 469.1,791.6 470.6,792.6 472.1,793.8 473.5,795.0 475.0,796.2 476.5,797.4 478.0,798.5 479.4,799.7 480.9,800.6 482.4,801.4 483.9,801.9 485.3,802.4 486.8,802.9 488.3,803.3 489.8,803.7 491.2,804.0 492.7,804.4 494.2,804.8 495.7,805.1 497.1,805.5 498.6,805.9 500.1,806.4 501.6,806.8 503.0,807.2 504.5,807.7 506.0,808.1 507.5,808.5 508.9,808.9 510.4,809.3 511.9,809.6 513.4,809.9 514.8,810.1 516.3,810.4 517.8,810.6 519.3,810.8 520.7,811.1 522.2,811.3 523.7,811.5 525.2,811.7 526.6,811.8 528.1,812.0 529.6,812.2 531.1,812.3 532.5,812.4 534.0,812.6 535.5,812.8 537.0,813.0 538.4,813.2 539.9,813.4 541.4,813.6 542.9,813.8 544.3,814.1 545.8,814.3 547.3,814.5 548.8,814.8 550.2,815.1 551.7,815.3 553.2,815.5 554.7,815.7 556.1,815.9 557.6,816.2 559.1,816.3 560.6,816.5 562.0,816.7 563.5,816.9 565.0,817.0 566.5,817.1 567.9,817.2 569.4,817.4 570.9,817.5 572.4,817.6 573.8,817.7 575.3,817.8 576.8,817.8 578.3,817.9 579.7,818.0 581.2,818.1 582.7,818.1 584.2,818.2 585.6,818.2 587.1,818.3 588.6,818.3 590.1,818.4 591.5,818.4 593.0,818.5 594.5,818.5 596.0,818.5 597.4,818.6 598.9,818.6 600.4,818.6 601.9,818.6 603.3,818.7 604.8,818.7 606.3,818.7 607.8,818.7 609.2,818.7 610.7,818.8 612.2,818.8 613.7,818.8 615.1,818.8 616.6,818.8 618.1,818.9 619.6,818.9 621.0,818.9 622.5,818.9 624.0,818.9 625.5,818.9 626.9,818.9 628.4,819.0 629.9,819.0 631.4,819.0 632.8,819.0 634.3,819.0 635.8,819.0 637.3,819.0 638.7,819.0 640.2,819.0 641.7,819.0 643.2,819.0 644.6,819.0 646.1,819.0 647.6,819.0 649.1,819.0 650.5,819.0 652.0,819.0 653.5,819.0 655.0,819.0 656.4,819.0 657.9,819.0 659.4,819.0 660.9,819.1 662.3,819.5 663.8,819.9 665.3,820.0 666.8,820.0 668.2,820.0 669.7,820.0 671.2,820.0 672.7,820.0 674.1,820.0 675.6,820.0 677.1,820.0 678.6,820.0 680.0,820.0 681.5,820.0 683.0,820.0 684.5,820.0 685.9,820.0 687.4,820.0 688.9,820.0 690.4,820.0 691.8,820.0 693.3,820.0 694.8,820.0 696.3,820.0 697.7,820.0 699.2,820.0 700.7,820.0 702.2,820.0 703.6,820.0 705.1,820.0 706.6,820.0 708.1,820.0 709.5,820.0 711.0,820.0 712.5,820.0 714.0,820.0 715.4,820.0 716.9,820.0 718.4,820.0 719.9,820.0 721.3,820.0 722.8,819.9 724.3,819.6 725.8,819.2 727.2,819.0 728.7,819.2 730.2,819.6 731.7,820.0 733.1,820.0 734.6,820.0 736.1,820.0 737.6,820.0 739.0,820.0 740.5,820.0 742.0,820.0 743.5,820.0 744.9,820.0 746.4,820.0 747.9,820.0 749.4,820.0 750.8,820.0 752.3,820.0 753.8,820.0 755.3,820.0 756.7,820.0 758.2,820.0 759.7,820.0 761.2,819.9 762.6,819.5 764.1,819.1 765.6,819.0 767.1,819.4 768.5,819.8 770.0,820.0 771.5,820.0 773.0,820.0 774.4,820.0 775.9,820.0 777.4,820.0 778.9,820.0 780.3,820.0 781.8,820.0 783.3,820.0 784.8,820.0 786.2,820.0 787.7,820.0 789.2,820.0 790.7,820.0 792.1,820.0 793.6,820.0 795.1,820.0 796.6,820.0 798.0,820.0 799.5,820.0 801.0,820.0 802.5,820.0 803.9,820.0 805.4,820.0 806.9,820.0 808.4,820.0 809.8,820.0 811.3,820.0 812.8,820.0 814.3,820.0 815.7,820.0 817.2,820.0 818.7,820.0 820.2,820.0 821.6,820.0 823.1,820.0 824.6,820.0 826.1,820.0 827.5,820.0 829.0,820.0 830.5,820.0 832.0,820.0 833.4,820.0 834.9,820.0 836.4,820.0 837.9,820.0 839.3,820.0 840.8,820.0 842.3,820.0 843.8,820.0 845.2,820.0 846.7,820.0 848.2,820.0 849.7,820.0 851.1,820.0 852.6,820.0 854.1,820.0 855.6,820.0 857.0,820.0 858.5,820.0 860.0,820.0 861.5,820.0 862.9,820.0 864.4,820.0 865.9,820.0 867.4,820.0 868.8,820.0 870.3,820.0 871.8,820.0 873.3,820.0 874.7,820.0 876.2,820.0 877.7,820.0 879.2,820.0 880.6,820.0 882.1,820.0 883.6,820.0 885.1,820.0 886.5,820.0 888.0,820.0 889.5,820.0 891.0,820.0 892.4,820.0 893.9,820.0 895.4,820.0 896.9,820.0 898.3,820.0 899.8,820.0 901.3,820.0 902.8,820.0 904.2,820.0 905.7,820.0" fill="none" stroke="#00FFFF" stroke-width="2" stroke-linejoin="round" shape-rendering="crispEdges"/>
<polyline points="152.0,820.0 153.5,820.0 154.9,820.0 156.4,820.0 157.9,820.0 159.4,820.0 160.8,820.0 162.3,820.0 163.8,820.0 165.3,820.0 166.7,820.0 168.2,820.0 169.7,820.0 171.2,820.0 172.6,820.0 174.1,820.0 175.6,820.0 177.1,820.0 178.5,820.0 180.0,820.0 181.5,820.0 183.0,820.0 184.4,820.0 185.9,820.0 187.4,820.0 188.9,820.0 190.3,820.0 191.8,820.0 193.3,820.0 194.8,820.0 196.2,820.0 197.7,820.0 199.2,820.0 200.7,820.0 202.1,820.0 203.6,820.0 205.1,820.0 206.6,820.0 208.0,819.9 209.5,819.9 211.0,819.9 212.5,819.9 213.9,819.9 215.4,819.9 216.9,819.9 218.4,819.9 219.8,819.9 221.3,819.9 222.8,819.9 224.3,819.9 225.7,819.9 227.2,819.9 228.7,819.9 230.2,819.9 231.6,819.9 233.1,819.9 234.6,819.9 236.1,819.9 237.5,819.9 239.0,819.8 240.5,819.8 242.0,819.8 243.4,819.8 244.9,819.8 246.4,819.8 247.9,819.8 249.3,819.8 250.8,819.8 252.3,819.8 253.8,819.8 255.2,819.8 256.7,819.8 258.2,819.8 259.7,819.7 261.1,819.7 262.6,819.7 264.1,819.7 265.6,819.7 267.0,819.7 268.5,819.7 270.0,819.7 271.5,819.7 272.9,819.7 274.4,819.6 275.9,819.6 277.4,819.6 278.8,819.6 280.3,819.6 281.8,819.6 283.3,819.5 284.7,819.4 286.2,819.2 287.7,819.1 289.2,818.9 290.6,818.8 292.1,818.6 293.6,818.5 295.1,818.4 296.5,818.3 298.0,818.2 299.5,818.2 301.0,818.1 302.4,818.0 303.9,817.9 305.4,817.8 306.9,817.8 308.3,817.7 309.8,817.6 311.3,817.6 312.8,817.5 314.2,817.4 315.7,817.4 317.2,817.3 318.7,817.2 320.1,817.1 321.6,817.1 323.1,817.0 324.6,816.9 326.0,816.9 327.5,816.8 329.0,816.7 330.5,816.6 331.9,816.5 333.4,816.4 334.9,816.4 336.4,816.3 337.8,816.2 339.3,816.0 340.8,815.9 342.3,815.8 343.7,815.7 345.2,815.6 346.7,815.4 348.2,815.3 349.6,815.1 351.1,815.0 352.6,814.8 354.1,814.6 355.5,814.4 357.0,814.2 358.5,814.0 360.0,813.7 361.4,813.5 362.9,813.2 364.4,812.9 365.9,812.6 367.3,812.2 368.8,811.8 370.3,811.4 371.8,810.9 373.2,810.4 374.7,809.7 376.2,809.0 377.7,808.3 379.1,807.5 380.6,806.6 382.1,805.6 383.6,804.5 385.0,803.3 386.5,802.1 388.0,800.9 389.5,799.8 390.9,798.8 392.4,797.9 393.9,797.0 395.4,796.2 396.8,795.3 398.3,794.4 399.8,793.6 401.3,792.7 402.7,791.7 404.2,790.7 405.7,789.7 407.2,788.6 408.6,787.5 410.1,786.2 411.6,784.9 413.1,783.5 414.5,782.1 416.0,780.5 417.5,778.9 419.0,777.5 420.4,776.3 421.9,775.3 423.4,774.4 424.9,773.6 426.3,772.8 427.8,772.0 429.3,771.3 430.8,770.5 432.2,769.9 433.7,769.2 435.2,768.6 436.7,768.2 438.1,768.2 439.6,768.3 441.1,768.5 442.6,768.7 444.0,768.8 445.5,769.0 447.0,769.1 448.5,769.3 449.9,769.7 451.4,770.3 452.9,771.1 454.4,771.7 455.8,772.5 457.3,773.3 458.8,774.3 460.3,775.4 461.7,776.6 463.2,777.9 464.7,779.2 466.2,780.3 467.6,781.3 469.1,782.4 470.6,783.9 472.1,786.3 473.5,788.5 475.0,790.2 476.5,791.6 478.0,793.0 479.4,794.5 480.9,796.1 482.4,797.6 483.9,798.6 485.3,799.4 486.8,800.1 488.3,800.7 489.8,801.3 491.2,801.8 492.7,802.2 494.2,802.7 495.7,803.3 497.1,803.9 498.6,804.6 500.1,805.3 501.6,806.1 503.0,806.8 504.5,807.4 506.0,808.1 507.5,808.7 508.9,809.3 510.4,809.9 511.9,810.4 513.4,810.8 514.8,811.2 516.3,811.7 517.8,812.1 519.3,812.4 520.7,812.8 522.2,813.1 523.7,813.5 525.2,813.7 526.6,814.0 528.1,814.2 529.6,814.4 531.1,814.5 532.5,814.6 534.0,814.7 535.5,814.7 537.0,814.8 538.4,814.9 539.9,815.0 541.4,815.1 542.9,815.2 544.3,815.4 545.8,815.5 547.3,815.7 548.8,815.9 550.2,816.0 551.7,816.2 553.2,816.4 554.7,816.6 556.1,816.8 557.6,816.9 559.1,817.1 560.6,817.3 562.0,817.4 563.5,817.5 565.0,817.7 566.5,817.8 567.9,817.9 569.4,818.0 570.9,818.0 572.4,818.1 573.8,818.1 575.3,818.2 576.8,818.2 578.3,818.3 579.7,818.3 581.2,818.3 582.7,818.4 584.2,818.4 585.6,818.4 587.1,818.4 588.6,818.5 590.1,818.5 591.5,818.5 593.0,818.6 594.5,818.6 596.0,818.6 597.4,818.6 598.9,818.7 600.4,818.7 601.9,818.7 603.3,818.7 604.8,818.8 606.3,818.8 607.8,818.8 609.2,818.8 610.7,818.9 612.2,818.9 613.7,818.9 615.1,818.9 616.6,818.9 618.1,819.0 619.6,819.0 621.0,819.0 622.5,819.0 624.0,819.1 625.5,819.1 626.9,819.1 628.4,819.1 629.9,819.2 631.4,819.2 632.8,819.2 634.3,819.3 635.8,819.3 637.3,819.3 638.7,819.3 640.2,819.4 641.7,819.4 643.2,819.4 644.6,819.4 646.1,819.4 647.6,819.5 649.1,819.5 650.5,819.5 652.0,819.5 653.5,819.5 655.0,819.6 656.4,819.6 657.9,819.6 659.4,819.6 660.9,819.6 662.3,819.7 663.8,819.7 665.3,819.7 666.8,819.7 668.2,819.7 669.7,819.8 671.2,819.8 672.7,819.8 674.1,819.8 675.6,819.8 677.1,819.9 678.6,819.9 680.0,819.9 681.5,819.9 683.0,819.9 684.5,819.9 685.9,819.9 687.4,820.0 688.9,820.0 690.4,820.0 691.8,820.0 693.3,820.0 694.8,820.0 696.3,820.0 697.7,820.0 699.2,820.0 700.7,820.0 702.2,820.0 703.6,820.0 705.1,820.0 706.6,820.0 708.1,820.0 709.5,820.0 711.0,820.0 712.5,820.0 714.0,820.0 715.4,820.0 716.9,820.0 718.4,820.0 719.9,820.0 721.3,820.0 722.8,820.0 724.3,820.0 725.8,820.0 727.2,820.0 728.7,820.0 730.2,820.0 731.7,820.0 733.1,820.0 734.6,820.0 736.1,820.0 737.6,820.0 739.0,820.0 740.5,820.0 742.0,820.0 743.5,820.0 744.9,820.0 746.4,820.0 747.9,820.0 749.4,820.0 750.8,820.0 752.3,820.0 753.8,820.0 755.3,820.0 756.7,820.0 758.2,820.0 759.7,820.0 761.2,820.0 762.6,820.0 764.1,820.0 765.6,820.0 767.1,820.0 768.5,820.0 770.0,820.0 771.5,820.0 773.0,820.0 774.4,820.0 775.9,820.0 777.4,820.0 778.9,820.0 780.3,820.0 781.8,820.0 783.3,820.0 784.8,820.0 786.2,820.0 787.7,820.0 789.2,820.0 790.7,820.0 792.1,820.0 793.6,820.0 795.1,820.0 796.6,820.0 798.0,820.0 799.5,820.0 801.0,820.0 802.5,820.0 803.9,820.0 805.4,820.0 806.9,820.0 808.4,820.0 809.8,820.0 811.3,820.0 812.8,820.0 814.3,820.0 815.7,820.0 817.2,820.0 818.7,820.0 820.2,820.0 821.6,820.0 823.1,820.0 824.6,820.0 826.1,820.0 827.5,820.0 829.0,820.0 830.5,820.0 832.0,820.0 833.4,820.0 834.9,820.0 836.4,820.0 837.9,820.0 839.3,820.0 840.8,820.0 842.3,820.0 843.8,820.0 845.2,820.0 846.7,820.0 848.2,820.0 849.7,820.0 851.1,820.0 852.6,820.0 854.1,820.0 855.6,820.0 857.0,820.0 858.5,820.0 860.0,820.0 861.5,820.0 862.9,820.0 864.4,820.0 865.9,820.0 867.4,820.0 868.8,820.0 870.3,820.0 871.8,820.0 873.3,820.0 874.7,820.0 876.2,820.0 877.7,820.0 879.2,820.0 880.6,820.0 882.1,820.0 883.6,820.0 885.1,820.0 886.5,820.0 888.0,820.0 889.5,820.0 891.0,820.0 892.4,820.0 893.9,820.0 895.4,820.0 896.9,820.0 898.3,820.0 899.8,820.0 901.3,820.0 902.8,820.0 904.2,820.0 905.7,820.0" fill="none" stroke="#FF00FF" stroke-width="2" stroke-linejoin="round" shape-rendering="crispEdges"/>
<polyline points="152.0,820.0 153.5,820.0 154.9,820.0 156.4,820.0 157.9,820.0 159.4,820.0 160.8,820.0 162.3,820.0 163.8,820.0 165.3,820.0 166.7,820.0 168.2,820.0 169.7,820.0 171.2,820.0 172.6,820.0 174.1,820.0 175.6,820.0 177.1,820.0 178.5,820.0 180.0,820.0 181.5,820.0 183.0,820.0 184.4,820.0 185.9,820.0 187.4,820.0 188.9,819.9 190.3,819.9 191.8,819.9 193.3,819.9 194.8,819.9 196.2,819.9 197.7,819.9 199.2,819.9 200.7,819.9 202.1,819.9 203.6,819.9 205.1,819.9 206.6,819.9 208.0,819.9 209.5,819.9 211.0,819.9 212.5,819.9 213.9,819.9 215.4,819.8 216.9,819.8 218.4,819.8 219.8,819.8 221.3,819.8 222.8,819.8 224.3,819.8 225.7,819.8 227.2,819.8 228.7,819.8 230.2,819.8 231.6,819.8 233.1,819.8 234.6,819.8 236.1,819.7 237.5,819.7 239.0,819.7 240.5,819.7 242.0,819.7 243.4,819.7 244.9,819.7 246.4,819.7 247.9,819.7 249.3,819.7 250.8,819.7 252.3,819.6 253.8,819.6 255.2,819.6 256.7,819.6 258.2,819.6 259.7,819.6 261.1,819.6 262.6,819.6 264.1,819.6 265.6,819.6 267.0,819.5 268.5,819.5 270.0,819.5 271.5,819.5 272.9,819.5 274.4,819.5 275.9,819.4 277.4,819.4 278.8,819.4 280.3,819.4 281.8,819.4 283.3,819.3 284.7,819.3 286.2,819.3 287.7,819.3 289.2,819.2 290.6,819.2 292.1,819.2 293.6,819.1 295.1,819.1 296.5,819.1 298.0,819.0 299.5,819.0 301.0,819.0 302.4,818.9 303.9,818.9 305.4,818.8 306.9,818.7 308.3,818.7 309.8,818.6 311.3,818.5 312.8,818.4 314.2,818.3 315.7,818.2 317.2,818.1 318.7,818.0 320.1,818.0 321.6,817.9 323.1,817.8 324.6,817.7 326.0,817.6 327.5,817.5 329.0,817.4 330.5,817.4 331.9,817.3 333.4,817.3 334.9,817.2 336.4,817.2 337.8,817.1 339.3,817.0 340.8,816.9 342.3,816.7 343.7,816.3 345.2,815.9 346.7,815.4 348.2,814.9 349.6,814.5 351.1,814.1 352.6,813.9 354.1,813.7 355.5,813.5 357.0,813.4 358.5,813.2 360.0,813.1 361.4,813.0 362.9,812.9 364.4,812.8 365.9,812.7 367.3,812.6 368.8,812.6 370.3,812.5 371.8,812.4 373.2,812.4 374.7,812.3 376.2,812.2 377.7,812.1 379.1,811.9 380.6,811.8 382.1,811.6 383.6,811.2 385.0,810.7 386.5,810.2 388.0,809.8 389.5,809.5 390.9,809.2 392.4,808.9 393.9,808.6 395.4,808.3 396.8,808.1 398.3,807.8 399.8,807.4 401.3,807.1 402.7,806.6 404.2,806.1 405.7,805.6 407.2,805.1 408.6,804.6 410.1,804.2 411.6,803.8 413.1,803.3 414.5,802.8 416.0,802.1 417.5,801.4 419.0,800.6 420.4,799.7 421.9,798.8 423.4,797.8 424.9,796.7 426.3,795.5 427.8,794.2 429.3,792.8 430.8,791.4 432.2,790.2 433.7,789.1 435.2,788.1 436.7,787.1 438.1,786.1 439.6,785.0 441.1,783.9 442.6,782.8 444.0,781.8 445.5,781.0 447.0,780.4 448.5,779.8 449.9,779.3 451.4,778.8 452.9,778.2 454.4,777.6 455.8,777.3 457.3,777.2 458.8,777.3 460.3,777.5 461.7,777.7 463.2,778.2 464.7,778.8 466.2,779.4 467.6,780.2 469.1,781.0 470.6,781.6 472.1,782.1 473.5,782.5 475.0,782.9 476.5,783.4 478.0,783.8 479.4,784.3 480.9,784.7 482.4,785.1 483.9,785.4 485.3,785.7 486.8,786.0 488.3,786.3 489.8,786.6 491.2,786.9 492.7,787.3 494.2,787.7 495.7,788.1 497.1,788.5 498.6,789.0 500.1,789.4 501.6,789.9 503.0,790.3 504.5,790.8 506.0,791.4 507.5,792.1 508.9,792.9 510.4,793.6 511.9,794.4 513.4,795.1 514.8,795.8 516.3,796.5 517.8,797.3 519.3,798.0 520.7,798.8 522.2,799.7 523.7,800.6 525.2,801.5 526.6,802.3 528.1,803.1 529.6,803.7 531.1,804.2 532.5,804.6 534.0,805.1 535.5,805.5 537.0,805.9 538.4,806.3 539.9,806.8 541.4,807.2 542.9,807.7 544.3,808.1 545.8,808.6 547.3,809.0 548.8,809.5 550.2,809.9 551.7,810.3 553.2,810.6 554.7,811.0 556.1,811.4 557.6,811.7 559.1,812.0 560.6,812.3 562.0,812.6 563.5,812.8 565.0,813.1 566.5,813.3 567.9,813.5 569.4,813.7 570.9,813.9 572.4,814.1 573.8,814.3 575.3,814.5 576.8,814.7 578.3,814.9 579.7,815.2 581.2,815.4 582.7,815.6 584.2,815.9 585.6,816.1 587.1,816.4 588.6,816.6 590.1,816.8 591.5,817.0 593.0,817.2 594.5,817.3 596.0,817.5 597.4,817.6 598.9,817.7 600.4,817.8 601.9,817.9 603.3,818.0 604.8,818.0 606.3,818.1 607.8,818.1 609.2,818.2 610.7,818.3 612.2,818.3 613.7,818.3 615.1,818.4 616.6,818.4 618.1,818.5 619.6,818.5 621.0,818.5 622.5,818.6 624.0,818.6 625.5,818.6 626.9,818.6 628.4,818.6 629.9,818.7 631.4,818.7 632.8,818.7 634.3,818.7 635.8,818.7 637.3,818.7 638.7,818.8 640.2,818.8 641.7,818.8 643.2,818.8 644.6,818.9 646.1,818.9 647.6,819.0 649.1,819.1 650.5,819.5 652.0,819.9 653.5,820.0 655.0,820.0 656.4,820.0 657.9,820.0 659.4,820.0 660.9,820.0 662.3,820.0 663.8,820.0 665.3,820.0 666.8,820.0 668.2,820.0 669.7,820.0 671.2,820.0 672.7,820.0 674.1,820.0 675.6,820.0 677.1,820.0 678.6,820.0 680.0,820.0 681.5,820.0 683.0,820.0 684.5,820.0 685.9,820.0 687.4,820.0 688.9,820.0 690.4,820.0 691.8,820.0 693.3,820.0 694.8,820.0 696.3,820.0 697.7,820.0 699.2,820.0 700.7,820.0 702.2,820.0 703.6,820.0 705.1,820.0 706.6,820.0 708.1,820.0 709.5,820.0 711.0,820.0 712.5,820.0 714.0,820.0 715.4,820.0 716.9,820.0 718.4,820.0 719.9,820.0 721.3,820.0 722.8,820.0 724.3,820.0 725.8,820.0 727.2,820.0 728.7,820.0 730.2,820.0 731.7,820.0 733.1,820.0 734.6,820.0 736.1,820.0 737.6,820.0 739.0,820.0 740.5,820.0 742.0,820.0 743.5,820.0 744.9,820.0 746.4,820.0 747.9,820.0 749.4,820.0 750.8,820.0 752.3,820.0 753.8,820.0 755.3,820.0 756.7,820.0 758.2,820.0 759.7,820.0 761.2,820.0 762.6,820.0 764.1,820.0 765.6,820.0 767.1,820.0 768.5,820.0 770.0,820.0 771.5,820.0 773.0,820.0 774.4,820.0 775.9,820.0 777.4,820.0 778.9,820.0 780.3,820.0 781.8,820.0 783.3,820.0 784.8,820.0 786.2,820.0 787.7,820.0 789.2,820.0 790.7,820.0 792.1,820.0 793.6,820.0 795.1,820.0 796.6,820.0 798.0,820.0 799.5,820.0 801.0,820.0 802.5,820.0 803.9,820.0 805.4,820.0 806.9,820.0 808.4,820.0 809.8,820.0 811.3,820.0 812.8,820.0 814.3,820.0 815.7,820.0 817.2,820.0 818.7,820.0 820.2,820.0 821.6,820.0 823.1,820.0 824.6,820.0 826.1,820.0 827.5,820.0 829.0,820.0 830.5,820.0 832.0,820.0 833.4,820.0 834.9,820.0 836.4,820.0 837.9,820.0 839.3,820.0 840.8,820.0 842.3,820.0 843.8,820.0 845.2,820.0 846.7,820.0 848.2,820.0 849.7,820.0 851.1,820.0 852.6,820.0 854.1,820.0 855.6,820.0 857.0,820.0 858.5,820.0 860.0,820.0 861.5,820.0 862.9,820.0 864.4,820.0 865.9,820.0 867.4,820.0 868.8,820.0 870.3,820.0 871.8,820.0 873.3,820.0 874.7,820.0 876.2,820.0 877.7,820.0 879.2,820.0 880.6,820.0 882.1,820.0 883.6,820.0 885.1,820.0 886.5,820.0 888.0,820.0 889.5,820.0 891.0,820.0 892.4,820.0 893.9,820.0 895.4,820.0 896.9,820.0 898.3,820.0 899.8,820.0 901.3,820.0 902.8,820.0 904.2,820.0 905.7,820.0" fill="none" stroke="#FFFF00" stroke-width="2" stroke-linejoin="round" shape-rendering="crispEdges"/>
<polyline points="152.0,820.0 153.5,820.0 154.9,820.0 156.4,820.0 157.9,820.0 159.4,820.0 160.8,820.0 162.3,820.0 163.8,820.0 165.3,820.0 166.7,820.0 168.2,820.0 169.7,820.0 171.2,820.0 172.6,820.0 174.1,820.0 175.6,820.0 177.1,820.0 178.5,819.9 180.0,819.9 181.5,819.9 183.0,819.9 184.4,819.9 185.9,819.9 187.4,819.9 188.9,819.9 190.3,819.9 191.8,819.9 193.3,819.9 194.8,819.8 196.2,819.8 197.7,819.8 199.2,819.8 200.7,819.8 202.1,819.8 203.6,819.8 205.1,819.7 206.6,819.7 208.0,819.7 209.5,819.7 211.0,819.7 212.5,819.6 213.9,819.6 215.4,819.6 216.9,819.5 218.4,819.3 219.8,819.1 221.3,818.9 222.8,818.7 224.3,818.5 225.7,818.4 227.2,818.3 228.7,818.3 230.2,818.2 231.6,818.1 233.1,818.1 234.6,818.0 236.1,818.0 237.5,817.9 239.0,817.9 240.5,817.8 242.0,817.8 243.4,817.8 244.9,817.8 246.4,817.8 247.9,817.8 249.3,817.7 250.8,817.7 252.3,817.7 253.8,817.7 255.2,817.7 256.7,817.7 258.2,817.7 259.7,817.7 261.1,817.7 262.6,817.7 264.1,817.7 265.6,817.7 267.0,817.7 268.5,817.7 270.0,817.7 271.5,817.7 272.9,817.7 274.4,817.7 275.9,817.6 277.4,817.6 278.8,817.6 280.3,817.6 281.8,817.6 283.3,817.6 284.7,817.6 286.2,817.6 287.7,817.6 289.2,817.6 290.6,817.5 292.1,817.5 293.6,817.5 295.1,817.3 296.5,817.1 298.0,816.9 299.5,816.7 301.0,816.5 302.4,816.3 303.9,816.1 305.4,816.0 306.9,815.8 308.3,815.5 309.8,815.2 311.3,814.9 312.8,814.5 314.2,814.2 315.7,813.9 317.2,813.6 318.7,813.3 320.1,813.0 321.6,812.6 323.1,812.1 324.6,811.7 326.0,811.2 327.5,810.7 329.0,810.2 330.5,809.7 331.9,809.3 333.4,809.0 334.9,808.7 336.4,808.6 337.8,808.4 339.3,808.3 340.8,808.2 342.3,808.1 343.7,808.0 345.2,808.0 346.7,808.0 348.2,808.2 349.6,808.4 351.1,808.7 352.6,808.9 354.1,809.2 355.5,809.5 357.0,809.8 358.5,810.1 360.0,810.4 361.4,810.7 362.9,810.9 364.4,811.0 365.9,811.0 367.3,811.0 368.8,811.0 370.3,811.0 371.8,811.0 373.2,810.9 374.7,810.7 376.2,810.3 377.7,809.8 379.1,809.3 380.6,808.8 382.1,808.3 383.6,807.6 385.0,807.0 386.5,806.2 388.0,805.4 389.5,804.5 390.9,803.5 392.4,802.4 393.9,801.2 395.4,799.9 396.8,798.7 398.3,797.4 399.8,796.0 401.3,794.7 402.7,793.3 404.2,791.8 405.7,790.3 407.2,788.8 408.6,787.4 410.1,786.0 411.6,784.6 413.1,783.4 414.5,782.2 416.0,781.1 417.5,780.1 419.0,779.1 420.4,778.1 421.9,777.2 423.4,776.3 424.9,775.4 426.3,774.6 427.8,773.8 429.3,773.1 430.8,772.3 432.2,771.7 433.7,771.2 435.2,770.7 436.7,770.1 438.1,769.0 439.6,767.9 441.1,767.5 442.6,767.2 444.0,767.0 445.5,766.9 447.0,766.7 448.5,766.5 449.9,766.4 451.4,766.4 452.9,766.8 454.4,767.3 455.8,768.1 457.3,769.4 458.8,770.6 460.3,771.8 461.7,773.1 463.2,774.6 464.7,776.2 466.2,778.0 467.6,779.9 469.1,781.9 470.6,784.1 472.1,786.5 473.5,788.8 475.0,790.9 476.5,792.8 478.0,794.6 479.4,796.3 480.9,798.2 482.4,799.8 483.9,801.5 485.3,802.8 486.8,803.6 488.3,804.1 489.8,804.6 491.2,805.1 492.7,805.5 494.2,806.0 495.7,806.5 497.1,807.1 498.6,807.7 500.1,808.4 501.6,809.2 503.0,809.9 504.5,810.7 506.0,811.4 507.5,812.2 508.9,813.0 510.4,813.7 511.9,814.4 513.4,814.9 514.8,815.4 516.3,815.9 517.8,816.3 519.3,816.6 520.7,816.9 522.2,817.2 523.7,817.5 525.2,817.7 526.6,817.9 528.1,818.0 529.6,818.1 531.1,818.2 532.5,818.2 534.0,818.3 535.5,818.4 537.0,818.4 538.4,818.5 539.9,818.5 541.4,818.6 542.9,818.6 544.3,818.6 545.8,818.7 547.3,818.7 548.8,818.8 550.2,818.8 551.7,818.8 553.2,818.8 554.7,818.9 556.1,818.9 557.6,818.9 559.1,819.0 560.6,819.0 562.0,819.1 563.5,819.1 565.0,819.1 566.5,819.2 567.9,819.2 569.4,819.2 570.9,819.3 572.4,819.3 573.8,819.4 575.3,819.4 576.8,819.4 578.3,819.5 579.7,819.5 581.2,819.5 582.7,819.6 584.2,819.6 585.6,819.6 587.1,819.7 588.6,819.7 590.1,819.7 591.5,819.7 593.0,819.8 594.5,819.8 596.0,819.8 597.4,819.8 598.9,819.8 600.4,819.8 601.9,819.8 603.3,819.8 604.8,819.8 606.3,819.8 607.8,819.8 609.2,819.8 610.7,819.8 612.2,819.8 613.7,819.8 615.1,819.8 616.6,819.8 618.1,819.8 619.6,819.8 621.0,819.8 622.5,819.8 624.0,819.8 625.5,819.8 626.9,819.8 628.4,819.8 629.9,819.8 631.4,819.8 632.8,819.8 634.3,819.9 635.8,819.9 637.3,819.9 638.7,819.9 640.2,819.9 641.7,819.9 643.2,819.9 644.6,819.9 646.1,819.9 647.6,819.9 649.1,819.9 650.5,819.9 652.0,819.9 653.5,819.9 655.0,819.9 656.4,819.9 657.9,819.9 659.4,819.9 660.9,819.9 662.3,819.9 663.8,819.9 665.3,819.9 666.8,819.9 668.2,819.9 669.7,819.9 671.2,819.9 672.7,819.9 674.1,819.9 675.6,819.9 677.1,819.9 678.6,819.9 680.0,819.9 681.5,819.9 683.0,819.9 684.5,819.9 685.9,819.9 687.4,819.9 688.9,819.9 690.4,819.9 691.8,819.9 693.3,819.9 694.8,819.9 696.3,819.9 697.7,819.9 699.2,819.9 700.7,819.9 702.2,819.9 703.6,819.9 705.1,819.9 706.6,819.9 708.1,819.9 709.5,819.9 711.0,819.9 712.5,819.9 714.0,819.9 715.4,819.9 716.9,819.9 718.4,819.9 719.9,819.9 721.3,819.9 722.8,819.9 724.3,819.9 725.8,819.9 727.2,819.9 728.7,819.9 730.2,819.9 731.7,820.0 733.1,820.0 734.6,820.0 736.1,820.0 737.6,820.0 739.0,820.0 740.5,820.0 742.0,820.0 743.5,820.0 744.9,820.0 746.4,820.0 747.9,820.0 749.4,820.0 750.8,820.0 752.3,820.0 753.8,820.0 755.3,820.0 756.7,820.0 758.2,820.0 759.7,820.0 761.2,820.0 762.6,820.0 764.1,820.0 765.6,820.0 767.1,820.0 768.5,820.0 770.0,820.0 771.5,820.0 773.0,820.0 774.4,820.0 775.9,820.0 777.4,820.0 778.9,820.0 780.3,820.0 781.8,820.0 783.3,820.0 784.8,820.0 786.2,820.0 787.7,820.0 789.2,820.0 790.7,820.0 792.1,820.0 793.6,820.0 795.1,820.0 796.6,820.0 798.0,820.0 799.5,820.0 801.0,820.0 802.5,820.0 803.9,820.0 805.4,820.0 806.9,820.0 808.4,820.0 809.8,820.0 811.3,820.0 812.8,820.0 814.3,820.0 815.7,820.0 817.2,820.0 818.7,820.0 820.2,820.0 821.6,820.0 823.1,820.0 824.6,820.0 826.1,820.0 827.5,820.0 829.0,820.0 830.5,820.0 832.0,820.0 833.4,820.0 834.9,820.0 836.4,820.0 837.9,820.0 839.3,820.0 840.8,820.0 842.3,820.0 843.8,820.0 845.2,820.0 846.7,820.0 848.2,820.0 849.7,820.0 851.1,820.0 852.6,820.0 854.1,820.0 855.6,820.0 857.0,820.0 858.5,820.0 860.0,820.0 861.5,820.0 862.9,820.0 864.4,820.0 865.9,820.0 867.4,820.0 868.8,820.0 870.3,820.0 871.8,820.0 873.3,820.0 874.7,820.0 876.2,820.0 877.7,820.0 879.2,820.0 880.6,820.0 882.1,820.0 883.6,820.0 885.1,820.0 886.5,820.0 888.0,820.0 889.5,820.0 891.0,820.0 892.4,820.0 893.9,820.0 895.4,820.0 896.9,820.0 898.3,820.0 899.8,820.0 901.3,820.0 902.8,820.0 904.2,820.0 905.7,820.0" fill="none" stroke="#BEBEBE" stroke-width="2" stroke-linejoin="round" shape-rendering="crispEdges"/>
<polyline points="152.0,820.0 153.5,820.0 154.9,820.0 156.4,820.0 157.9,820.0 159.4,820.0 160.8,820.0 162.3,820.0 163.8,820.0 165.3,820.0 166.7,820.0 168.2,820.0 169.7,820.0 171.2,820.0 172.6,820.0 174.1,820.0 175.6,820.0 177.1,820.0 178.5,820.0 180.0,820.0 181.5,820.0 183.0,820.0 184.4,820.0 185.9,820.0 187.4,820.0 188.9,820.0 190.3,820.0 191.8,820.0 193.3,820.0 194.8,820.0 196.2,820.0 197.7,820.0 199.2,820.0 200.7,820.0 202.1,820.0 203.6,820.0 205.1,820.0 206.6,820.0 208.0,820.0 209.5,820.0 211.0,820.0 212.5,820.0 213.9,820.0 215.4,820.0 216.9,820.0 218.4,820.0 219.8,820.0 221.3,820.0 222.8,820.0 224.3,820.0 225.7,820.0 227.2,820.0 228.7,820.0 230.2,820.0 231.6,820.0 233.1,820.0 234.6,820.0 236.1,820.0 237.5,820.0 239.0,820.0 240.5,820.0 242.0,820.0 243.4,820.0 244.9,820.0 246.4,820.0 247.9,820.0 249.3,820.0 250.8,820.0 252.3,820.0 253.8,820.0 255.2,820.0 256.7,820.0 258.2,820.0 259.7,820.0 261.1,820.0 262.6,820.0 264.1,820.0 265.6,820.0 267.0,820.0 268.5,820.0 270.0,820.0 271.5,820.0 272.9,820.0 274.4,820.0 275.9,820.0 277.4,820.0 278.8,820.0 280.3,820.0 281.8,820.0 283.3,820.0 284.7,820.0 286.2,820.0 287.7,820.0 289.2,820.0 290.6,820.0 292.1,820.0 293.6,820.0 295.1,820.0 296.5,820.0 298.0,820.0 299.5,820.0 301.0,820.0 302.4,820.0 303.9,820.0 305.4,820.0 306.9,820.0 308.3,820.0 309.8,820.0 311.3,820.0 312.8,820.0 314.2,820.0 315.7,820.0 317.2,820.0 318.7,820.0 320.1,820.0 321.6,820.0 323.1,820.0 324.6,820.0 326.0,820.0 327.5,820.0 329.0,820.0 330.5,820.0 331.9,820.0 333.4,820.0 334.9,820.0 336.4,820.0 337.8,820.0 339.3,820.0 340.8,820.0 342.3,820.0 343.7,820.0 345.2,820.0 346.7,820.0 348.2,820.0 349.6,820.0 351.1,820.0 352.6,820.0 354.1,820.0 355.5,820.0 357.0,820.0 358.5,820.0 360.0,820.0 361.4,820.0 362.9,820.0 364.4,820.0 365.9,820.0 367.3,820.0 368.8,820.0 370.3,820.0 371.8,820.0 373.2,819.9 374.7,819.9 376.2,819.8 377.7,819.6 379.1,819.5 380.6,819.3 382.1,818.8 383.6,818.1 385.0,817.4 386.5,816.8 388.0,816.3 389.5,815.7 390.9,815.3 392.4,814.9 393.9,814.6 395.4,814.3 396.8,814.0 398.3,813.8 399.8,813.6 401.3,813.5 402.7,813.4 404.2,813.3 405.7,813.2 407.2,813.2 408.6,813.4 410.1,813.8 411.6,814.3 413.1,814.6 414.5,814.8 416.0,815.0 417.5,815.2 419.0,815.4 420.4,815.5 421.9,815.6 423.4,815.0 424.9,813.4 426.3,811.6 427.8,810.3 429.3,808.9 430.8,807.0 432.2,804.3 433.7,801.3 435.2,798.4 436.7,795.4 438.1,792.9 439.6,790.5 441.1,787.4 442.6,783.6 444.0,779.3 445.5,775.1 447.0,770.9 448.5,766.6 449.9,761.4 451.4,755.3 452.9,749.5 454.4,743.7 455.8,738.8 457.3,735.7 458.8,733.6 460.3,732.2 461.7,731.6 463.2,731.8 464.7,732.2 466.2,733.3 467.6,735.1 469.1,740.1 470.6,743.3 472.1,746.6 473.5,750.6 475.0,754.9 476.5,758.4 478.0,761.8 479.4,765.8 480.9,770.5 482.4,775.3 483.9,780.7 485.3,785.9 486.8,789.6 488.3,792.1 489.8,794.1 491.2,796.2 492.7,798.6 494.2,800.9 495.7,803.5 497.1,806.0 498.6,808.0 500.1,809.1 501.6,809.9 503.0,810.5 504.5,811.0 506.0,811.4 507.5,811.8 508.9,812.1 510.4,812.4 511.9,812.5 513.4,812.6 514.8,812.6 516.3,812.7 517.8,812.7 519.3,812.7 520.7,812.8 522.2,812.8 523.7,812.8 525.2,812.8 526.6,812.6 528.1,812.4 529.6,812.2 531.1,812.2 532.5,812.1 534.0,812.1 535.5,812.1 537.0,812.1 538.4,812.1 539.9,812.1 541.4,812.1 542.9,812.0 544.3,812.0 545.8,812.0 547.3,811.9 548.8,811.8 550.2,811.6 551.7,811.5 553.2,811.3 554.7,811.0 556.1,810.8 557.6,810.4 559.1,809.7 560.6,808.3 562.0,807.0 563.5,805.8 565.0,804.7 566.5,803.6 567.9,802.4 569.4,801.3 570.9,800.6 572.4,800.1 573.8,800.0 575.3,800.4 576.8,801.0 578.3,801.6 579.7,802.1 581.2,802.7 582.7,803.4 584.2,804.4 585.6,805.6 587.1,806.6 588.6,807.5 590.1,808.4 591.5,809.2 593.0,809.8 594.5,810.1 596.0,810.3 597.4,810.4 598.9,810.5 600.4,810.6 601.9,810.8 603.3,810.9 604.8,811.1 606.3,811.4 607.8,811.7 609.2,812.1 610.7,812.6 612.2,813.2 613.7,813.9 615.1,814.6 616.6,815.1 618.1,815.7 619.6,816.2 621.0,816.8 622.5,817.3 624.0,817.8 625.5,818.2 626.9,818.5 628.4,818.6 629.9,818.7 631.4,818.8 632.8,818.9 634.3,819.0 635.8,819.0 637.3,819.1 638.7,819.2 640.2,819.2 641.7,819.3 643.2,819.3 644.6,819.4 646.1,819.4 647.6,819.5 649.1,819.5 650.5,819.5 652.0,819.5 653.5,819.6 655.0,819.6 656.4,819.6 657.9,819.6 659.4,819.7 660.9,819.7 662.3,819.7 663.8,819.7 665.3,819.7 666.8,819.8 668.2,819.8 669.7,819.8 671.2,819.8 672.7,819.8 674.1,819.8 675.6,819.9 677.1,819.9 678.6,819.9 680.0,819.9 681.5,819.9 683.0,819.9 684.5,819.9 685.9,820.0 687.4,820.0 688.9,820.0 690.4,820.0 691.8,820.0 693.3,820.0 694.8,820.0 696.3,820.0 697.7,820.0 699.2,820.0 700.0,820.0" fill="none" stroke="#FF0000" stroke-width="2" stroke-linejoin="round" shape-rendering="crispEdges" stroke-dasharray="8 4"/>
<line x1="700.0" y1="820" x2="907.0" y2="820" stroke="#FF0000" stroke-width="2" stroke-dasharray="8 4" stroke-dashoffset="2"/>
<polyline points="152.0,820.0 153.5,820.0 154.9,820.0 156.4,820.0 157.9,820.0 159.4,820.0 160.8,820.0 162.3,820.0 163.8,820.0 165.3,820.0 166.7,820.0 168.2,820.0 169.7,820.0 171.2,820.0 172.6,820.0 174.1,820.0 175.6,820.0 177.1,820.0 178.5,820.0 180.0,820.0 181.5,820.0 183.0,820.0 184.4,820.0 185.9,820.0 187.4,820.0 188.9,820.0 190.3,820.0 191.8,820.0 193.3,820.0 194.8,820.0 196.2,820.0 197.7,820.0 199.2,820.0 200.7,820.0 202.1,820.0 203.6,820.0 205.1,820.0 206.6,820.0 208.0,820.0 209.5,820.0 211.0,820.0 212.5,819.9 213.9,819.9 215.4,819.9 216.9,819.9 218.4,819.9 219.8,819.9 221.3,819.9 222.8,819.9 224.3,819.9 225.7,819.9 227.2,819.9 228.7,819.9 230.2,819.9 231.6,819.9 233.1,819.9 234.6,819.9 236.1,819.9 237.5,819.9 239.0,819.9 240.5,819.9 242.0,819.9 243.4,819.9 244.9,819.9 246.4,819.9 247.9,819.9 249.3,819.9 250.8,819.8 252.3,819.8 253.8,819.8 255.2,819.8 256.7,819.8 258.2,819.8 259.7,819.8 261.1,819.8 262.6,819.8 264.1,819.8 265.6,819.8 267.0,819.8 268.5,819.8 270.0,819.8 271.5,819.8 272.9,819.8 274.4,819.7 275.9,819.7 277.4,819.7 278.8,819.7 280.3,819.7 281.8,819.7 283.3,819.7 284.7,819.7 286.2,819.7 287.7,819.7 289.2,819.7 290.6,819.7 292.1,819.6 293.6,819.6 295.1,819.6 296.5,819.6 298.0,819.6 299.5,819.6 301.0,819.6 302.4,819.6 303.9,819.5 305.4,819.5 306.9,819.4 308.3,819.4 309.8,819.3 311.3,819.2 312.8,819.1 314.2,819.0 315.7,818.9 317.2,818.8 318.7,818.7 320.1,818.5 321.6,818.4 323.1,818.2 324.6,818.1 326.0,817.9 327.5,817.8 329.0,817.6 330.5,817.4 331.9,817.2 333.4,817.0 334.9,816.7 336.4,816.4 337.8,816.0 339.3,815.6 340.8,815.2 342.3,814.8 343.7,814.4 345.2,813.9 346.7,813.4 348.2,812.6 349.6,811.9 351.1,811.2 352.6,810.8 354.1,810.6 355.5,810.7 357.0,810.8 358.5,810.9 360.0,811.2 361.4,811.5 362.9,811.9 364.4,812.3 365.9,812.5 367.3,812.8 368.8,812.9 370.3,813.1 371.8,813.4 373.2,813.7 374.7,814.1 376.2,814.6 377.7,814.9 379.1,815.0 380.6,815.0 382.1,814.9 383.6,814.7 385.0,814.4 386.5,813.4 388.0,812.0 389.5,810.8 390.9,810.1 392.4,809.4 393.9,807.6 395.4,802.4 396.8,800.2 398.3,799.3 399.8,798.4 401.3,796.9 402.7,795.2 404.2,793.8 405.7,792.1 407.2,789.6 408.6,787.5 410.1,785.4 411.6,782.5 413.1,779.8 414.5,778.3 416.0,777.0 417.5,775.5 419.0,774.1 420.4,772.3 421.9,770.5 423.4,768.9 424.9,767.6 426.3,767.0 427.8,766.8 429.3,766.6 430.8,766.2 432.2,765.0 433.7,764.0 435.2,763.6 436.7,763.3 438.1,763.2 439.6,763.3 441.1,763.6 442.6,763.9 444.0,764.1 445.5,764.3 447.0,764.4 448.5,764.9 449.9,766.2 451.4,767.6 452.9,768.8 454.4,770.0 455.8,771.8 457.3,774.1 458.8,775.8 460.3,777.5 461.7,779.6 463.2,782.3 464.7,784.2 466.2,785.8 467.6,787.7 469.1,790.0 470.6,791.9 472.1,793.5 473.5,795.3 475.0,797.2 476.5,798.5 478.0,799.5 479.4,800.1 480.9,800.6 482.4,800.9 483.9,801.1 485.3,801.2 486.8,801.1 488.3,801.0 489.8,800.8 491.2,800.5 492.7,799.6 494.2,798.5 495.7,797.8 497.1,797.2 498.6,796.8 500.1,796.8 501.6,796.9 503.0,797.0 504.5,797.4 506.0,798.1 507.5,798.8 508.9,799.4 510.4,799.9 511.9,800.5 513.4,801.1 514.8,801.8 516.3,802.5 517.8,803.2 519.3,804.3 520.7,805.8 522.2,806.7 523.7,807.2 525.2,808.4 526.6,810.0 528.1,811.3 529.6,812.2 531.1,812.9 532.5,813.5 534.0,814.0 535.5,814.5 537.0,814.9 538.4,815.2 539.9,815.5 541.4,815.7 542.9,815.9 544.3,816.0 545.8,816.2 547.3,816.3 548.8,816.5 550.2,816.6 551.7,816.7 553.2,816.8 554.7,816.9 556.1,817.0 557.6,817.1 559.1,817.2 560.6,817.2 562.0,817.3 563.5,817.4 565.0,817.4 566.5,817.5 567.9,817.6 569.4,817.6 570.9,817.7 572.4,817.8 573.8,817.8 575.3,817.9 576.8,817.9 578.3,818.0 579.7,818.0 581.2,818.1 582.7,818.1 584.2,818.2 585.6,818.2 587.1,818.3 588.6,818.3 590.1,818.3 591.5,818.4 593.0,818.4 594.5,818.5 596.0,818.5 597.4,818.5 598.9,818.6 600.4,818.6 601.9,818.6 603.3,818.7 604.8,818.7 606.3,818.7 607.8,818.8 609.2,818.8 610.7,818.8 612.2,818.9 613.7,818.9 615.1,818.9 616.6,819.0 618.1,819.0 619.6,819.0 621.0,819.0 622.5,819.1 624.0,819.1 625.5,819.1 626.9,819.2 628.4,819.2 629.9,819.2 631.4,819.2 632.8,819.3 634.3,819.3 635.8,819.3 637.3,819.3 638.7,819.3 640.2,819.4 641.7,819.4 643.2,819.4 644.6,819.4 646.1,819.4 647.6,819.5 649.1,819.5 650.5,819.5 652.0,819.5 653.5,819.5 655.0,819.6 656.4,819.6 657.9,819.6 659.4,819.6 660.9,819.6 662.3,819.7 663.8,819.7 665.3,819.7 666.8,819.7 668.2,819.7 669.7,819.8 671.2,819.8 672.7,819.8 674.1,819.8 675.6,819.8 677.1,819.9 678.6,819.9 680.0,819.9 681.5,819.9 683.0,819.9 684.5,819.9 685.9,819.9 687.4,820.0 688.9,820.0 690.4,820.0 691.8,820.0 693.3,820.0 694.8,820.0 696.3,820.0 697.7,820.0 699.2,820.0 700.0,820.0" fill="none" stroke="#00CD00" stroke-width="2" stroke-linejoin="round" shape-rendering="crispEdges" stroke-dasharray="8 4"/>
<line x1="700.0" y1="820" x2="907.0" y2="820" stroke="#00CD00" stroke-width="2" stroke-dasharray="8 4" stroke-dashoffset="3"/>
<polyline points="152.0,820.0 386.5,820.0" fill="none" stroke="#0000FF" stroke-width="2" stroke-linejoin="round" shape-rendering="crispEdges" stroke-dasharray="8 4" stroke-dashoffset="0"/>
<polyline points="386.5,820.0 387.7,815.0 387.9,745.0 389.8,690.0 390.0,620.0 390.2,580.0 391.3,600.0 392.3,660.0 392.9,700.0 393.3,800.0 394.6,815.0 396.2,820.0" fill="none" stroke="#0000FF" stroke-width="2" stroke-linejoin="round" shape-rendering="crispEdges" stroke-dasharray="8 4" stroke-dashoffset="6.82"/>
<polyline points="396.2,820.0 420.5,820.0" fill="none" stroke="#0000FF" stroke-width="2" stroke-linejoin="round" shape-rendering="crispEdges" stroke-dasharray="8 4" stroke-dashoffset="0.2"/>
<polyline points="420.5,820.0 422.0,818.0 423.2,805.0 423.9,690.0 424.8,590.0 425.8,324.0 427.4,148.0 429.0,324.0 430.3,460.0 430.9,590.0 431.3,720.0 433.2,790.0 433.9,815.0 435.2,820.0" fill="none" stroke="#0000FF" stroke-width="2" stroke-linejoin="round" shape-rendering="crispEdges" stroke-dasharray="8 4" stroke-dashoffset="3.43"/>
<polyline points="435.2,820.0 437.6,820.0 439.4,817.5 441.3,810.0 442.4,790.0 444.1,681.0 445.6,609.0 447.1,681.0 448.5,790.0 449.0,813.0 450.3,819.0 451.8,820.0" fill="none" stroke="#0000FF" stroke-width="2" stroke-linejoin="round" shape-rendering="crispEdges" stroke-dasharray="8 4" stroke-dashoffset="11.72"/>
<polyline points="451.8,820.0 907.0,820.0" fill="none" stroke="#0000FF" stroke-width="2" stroke-linejoin="round" shape-rendering="crispEdges" stroke-dasharray="8 4" stroke-dashoffset="9.8"/>
<rect x="122" y="123" width="815" height="724" fill="none" stroke="#000" stroke-width="2"/>
<line x1="135" y1="847" x2="135" y2="863" stroke="#000" stroke-width="2"/>
<line x1="243" y1="847" x2="243" y2="863" stroke="#000" stroke-width="2"/>
<line x1="350" y1="847" x2="350" y2="863" stroke="#000" stroke-width="2"/>
<line x1="458" y1="847" x2="458" y2="863" stroke="#000" stroke-width="2"/>
<line x1="566" y1="847" x2="566" y2="863" stroke="#000" stroke-width="2"/>
<line x1="673" y1="847" x2="673" y2="863" stroke="#000" stroke-width="2"/>
<line x1="781" y1="847" x2="781" y2="863" stroke="#000" stroke-width="2"/>
<line x1="889" y1="847" x2="889" y2="863" stroke="#000" stroke-width="2"/>
<line x1="106" y1="820" x2="122" y2="820" stroke="#000" stroke-width="2"/>
<line x1="106" y1="639" x2="122" y2="639" stroke="#000" stroke-width="2"/>
<line x1="106" y1="458" x2="122" y2="458" stroke="#000" stroke-width="2"/>
<line x1="106" y1="278" x2="122" y2="278" stroke="#000" stroke-width="2"/>
<text transform="translate(135,901) scale(0.9,1)" font-size="26" text-anchor="middle">-6</text>
<text transform="translate(243,901) scale(0.9,1)" font-size="26" text-anchor="middle">-4</text>
<text transform="translate(350,901) scale(0.9,1)" font-size="26" text-anchor="middle">-2</text>
<text transform="translate(458,901) scale(0.9,1)" font-size="26" text-anchor="middle">0</text>
<text transform="translate(566,901) scale(0.9,1)" font-size="26" text-anchor="middle">2</text>
<text transform="translate(673,901) scale(0.9,1)" font-size="26" text-anchor="middle">4</text>
<text transform="translate(781,901) scale(0.9,1)" font-size="26" text-anchor="middle">6</text>
<text transform="translate(889,901) scale(0.9,1)" font-size="26" text-anchor="middle">8</text>
<text transform="translate(87,819.8) rotate(-90) scale(0.9,1)" font-size="26" text-anchor="middle">0</text>
<text transform="translate(87,638.8) rotate(-90) scale(0.9,1)" font-size="26" text-anchor="middle">2</text>
<text transform="translate(87,457.8) rotate(-90) scale(0.9,1)" font-size="26" text-anchor="middle">4</text>
<text transform="translate(87,277.8) rotate(-90) scale(0.9,1)" font-size="26" text-anchor="middle">6</text>
<text x="303.2" y="72" font-size="30.2" font-weight="bold" textLength="452.2" lengthAdjust="spacingAndGlyphs" stroke="#fff" stroke-width="0.35" paint-order="normal">number read ratio WT.G1.3/rad50.G1.2</text>
<text x="479.6" y="961" font-size="26" textLength="100.4" lengthAdjust="spacingAndGlyphs">log2 ratio</text>
<text transform="translate(26,525) rotate(-90)" font-size="26" textLength="80" lengthAdjust="spacingAndGlyphs">density</text>
<line x1="144" y1="153" x2="191" y2="153" stroke="#000000" stroke-width="2"/>
<text x="212.8" y="162" font-size="26.5" textLength="162.5" lengthAdjust="spacingAndGlyphs">gene (sd=0.76)</text>
<line x1="144" y1="183" x2="191" y2="183" stroke="#FF0000" stroke-width="2"/>
<text x="212.8" y="192" font-size="26.5" textLength="179.9" lengthAdjust="spacingAndGlyphs">mRNA (sd=0.66)</text>
<line x1="144" y1="213" x2="191" y2="213" stroke="#00CD00" stroke-width="2"/>
<text x="212.8" y="222" font-size="26.5" textLength="212.1" lengthAdjust="spacingAndGlyphs">divergent (sd=1.06)</text>
<line x1="144" y1="243" x2="191" y2="243" stroke="#0000FF" stroke-width="2"/>
<text x="212.8" y="252" font-size="26.5" textLength="158.8" lengthAdjust="spacingAndGlyphs">XUT (sd=0.96)</text>
<line x1="144" y1="273" x2="191" y2="273" stroke="#00FFFF" stroke-width="2"/>
<text x="212.8" y="282" font-size="26.5" textLength="159.9" lengthAdjust="spacingAndGlyphs">CUT (sd=1.04)</text>
<line x1="144" y1="303" x2="191" y2="303" stroke="#FF00FF" stroke-width="2"/>
<text x="212.8" y="312" font-size="26.5" textLength="156.9" lengthAdjust="spacingAndGlyphs">SUT (sd=0.77)</text>
<line x1="144" y1="333" x2="191" y2="333" stroke="#FFFF00" stroke-width="2"/>
<text x="212.8" y="342" font-size="26.5" textLength="168.2" lengthAdjust="spacingAndGlyphs">tRNA (sd=0.96)</text>
<line x1="144" y1="363" x2="191" y2="363" stroke="#BEBEBE" stroke-width="2"/>
<text x="212.8" y="372" font-size="26.5" textLength="185.3" lengthAdjust="spacingAndGlyphs">snoRNA (sd=0.9)</text>
<line x1="144" y1="393" x2="188" y2="393" stroke="#FF0000" stroke-width="2" stroke-dasharray="8 4"/>
<text x="212.8" y="402" font-size="26.5" textLength="168.7" lengthAdjust="spacingAndGlyphs">rRNA (sd=0.94)</text>
<line x1="144" y1="423" x2="188" y2="423" stroke="#00CD00" stroke-width="2" stroke-dasharray="8 4"/>
<text x="212.8" y="432" font-size="26.5" textLength="185.3" lengthAdjust="spacingAndGlyphs">ncRNA (sd=0.74)</text>
<line x1="144" y1="453" x2="188" y2="453" stroke="#0000FF" stroke-width="2" stroke-dasharray="8 4"/>
<text x="212.8" y="462" font-size="26.5" textLength="185.3" lengthAdjust="spacingAndGlyphs">snRNA (sd=0.33)</text>
</svg></body></html>
